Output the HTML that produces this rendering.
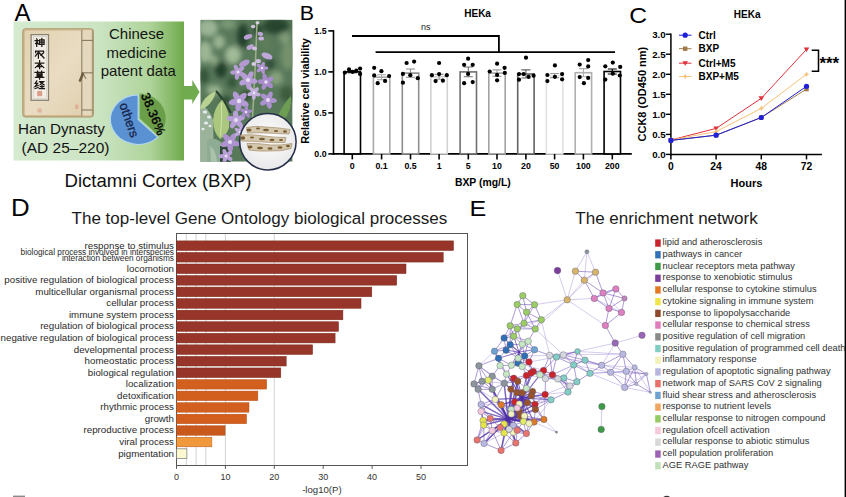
<!DOCTYPE html>
<html><head><meta charset="utf-8">
<style>
html,body{margin:0;padding:0;background:#fff;}
body{width:846px;height:497px;overflow:hidden;position:relative;font-family:"Liberation Sans", sans-serif;}
svg{position:absolute;left:0;top:0;}
text{font-family:"Liberation Sans", sans-serif;}
</style></head><body>
<svg width="846" height="497" viewBox="0 0 846 497">
<defs>
<linearGradient id="gbox" x1="0" y1="0" x2="1" y2="0">
<stop offset="0" stop-color="#d5eacf"/>
<stop offset="0.5" stop-color="#cbe4c3"/>
<stop offset="0.8" stop-color="#afd49a"/>
<stop offset="1" stop-color="#6fa94b"/>
</linearGradient>
</defs>

<text transform="translate(14.4,20.5) scale(1.04,1)" font-size="23" fill="#000">A</text>
<rect x="13.5" y="21.5" width="170.5" height="139" fill="url(#gbox)"/>
<defs><linearGradient id="bookg" x1="0" y1="0" x2="1" y2="1">
<stop offset="0" stop-color="#e2d2b0"/><stop offset="0.5" stop-color="#e9dcc2"/><stop offset="1" stop-color="#e0cfae"/></linearGradient></defs><rect x="22.8" y="28.8" width="70.6" height="88.2" rx="2.5" fill="#cdb68a" stroke="#a88e62" stroke-width="0.9"/><rect x="24.6" y="30.4" width="67.2" height="85" rx="1.5" fill="url(#bookg)"/><rect x="82" y="30" width="10.4" height="86.2" fill="#e4d8be"/><rect x="31.1" y="34.6" width="17.4" height="65.7" fill="#f2eee6" stroke="#8a8272" stroke-width="1.3"/><rect x="33.2" y="36.6" width="13.2" height="61.7" fill="none" stroke="#c2bcb0" stroke-width="0.5"/><path transform="translate(34.6,38.4)" d="M2 0.4 L2.6 1.4 M0.5 2.1 H3.6 L1 5.2 M2.1 3.6 V8 M3 4.6 L3.8 5.6 M5 1.5 H9.5 V6 H5 Z M5 3.75 H9.5 M7.25 0 V8" stroke="#1a1612" stroke-width="1.25" fill="none" stroke-linecap="square"/><path transform="translate(34.6,50.0)" d="M1 2.6 V1 H9 V2.6 M4.2 1.6 L0.8 6.2 M3.8 3.2 V8 M4.8 3 L9.4 8 M8.3 3.4 L6 5.2" stroke="#1a1612" stroke-width="1.25" fill="none" stroke-linecap="square"/><path transform="translate(34.6,60.6)" d="M0.8 2.5 H9.2 M5 0 V8 M5 3 L0.8 7 M5 3 L9.2 7 M3.3 6 H6.7" stroke="#1a1612" stroke-width="1.25" fill="none" stroke-linecap="square"/><path transform="translate(34.6,71.2)" d="M0.4 1.2 H9.6 M3 0 V2.3 M7 0 V2.3 M2.5 2.7 H7.5 V5 H2.5 Z M2.5 3.85 H7.5 M0.8 6.1 H9.2 M5 5 V8" stroke="#1a1612" stroke-width="1.25" fill="none" stroke-linecap="square"/><path transform="translate(34.6,80.9)" d="M2.2 0 L0.6 2.5 H3 L0.5 5.6 L3.6 4.6 M0.5 7.6 L3.6 6.6 M5 0.8 H9 L5.4 4 M6 1.6 L9.6 4 M5.6 5.6 H9.2 M7.4 4.6 V7.6 M4.6 7.6 H9.8" stroke="#1a1612" stroke-width="1.25" fill="none" stroke-linecap="square"/><rect x="37.2" y="91" width="5" height="5.2" fill="#d9907a" opacity="0.85"/><rect x="37.6" y="108.5" width="4" height="4" fill="#dfa48c" opacity="0.7"/><rect x="75" y="104.5" width="3.5" height="4.5" fill="#dfa48c" opacity="0.7"/><line x1="81.8" y1="29" x2="81.8" y2="116.6" stroke="#8f8062" stroke-width="1.1"/><line x1="92.3" y1="29" x2="92.3" y2="116.6" stroke="#a39474" stroke-width="1"/><line x1="81.8" y1="40.4" x2="93" y2="40.4" stroke="#8a7a5a" stroke-width="1.1"/><line x1="81.8" y1="72.8" x2="93" y2="72.8" stroke="#8a7a5a" stroke-width="1.1"/><line x1="81.8" y1="110" x2="93" y2="110" stroke="#8a7a5a" stroke-width="1.1"/><path d="M82.5 72.5 L79 81 L80.5 81.5 L83.5 74.5 Z M83 73 L86 79" stroke="#6a5a3e" stroke-width="0.9" fill="#6a5a3e"/><path d="M23.5 30 V116.2" stroke="#c4ad82" stroke-width="1.4" opacity="0.8"/><path d="M24 29.6 H92" stroke="#cdb78c" stroke-width="1" opacity="0.8"/><path d="M24 116.2 H92" stroke="#bfa67a" stroke-width="1.2" opacity="0.8"/>
<text x="136.5" y="38.7" font-size="15" text-anchor="middle" fill="#141414">Chinese</text>
<text x="136.5" y="58" font-size="15" text-anchor="middle" fill="#141414">medicine</text>
<text x="138.2" y="76.3" font-size="15" text-anchor="middle" fill="#141414">patent data</text>
<text x="61.4" y="134.2" font-size="15.2" text-anchor="middle" fill="#141414">Han Dynasty</text>
<text x="65.5" y="153.1" font-size="15.5" text-anchor="middle" fill="#141414">(AD 25–220)</text>
<path d="M138.20,119.60 L157.84,137.14 A27.78,24.80 0 1 1 138.20,94.80 Z" fill="#5a91d2" stroke="#b3d8ef" stroke-width="1.2"/>
<path d="M139.60,118.40 L139.60,93.60 A26.78,24.80 0 0 1 158.54,135.94 Z" fill="#6b9e48" stroke="#95c47a" stroke-width="1"/>
<text x="0" y="0" font-size="12.8" fill="#17244a" stroke="#17244a" stroke-width="0.3" transform="translate(119.2,104.6) rotate(71)">others</text>
<text x="0" y="0" font-size="13.2" font-weight="bold" fill="#0c0c0c" transform="translate(140.6,95.0) rotate(67.5)">38.36%</text>
<path d="M184 86 H192.3 V80 L199.6 92 L192.3 104 V99.5 H184 Z" fill="#70ab50"/>
<defs>
<radialGradient id="bgph" cx="0.5" cy="0.4" r="0.7">
<stop offset="0" stop-color="#5d8a60"/><stop offset="1" stop-color="#2f5a3a"/>
</radialGradient>
<radialGradient id="circ" cx="0.5" cy="0.45" r="0.6">
<stop offset="0" stop-color="#ffffff"/><stop offset="1" stop-color="#e6e6e8"/>
</radialGradient>
</defs>
<defs>
<clipPath id="phclip"><rect x="200.3" y="19.7" width="92.3" height="142"/></clipPath>
<filter id="bl3" x="-50%" y="-50%" width="200%" height="200%"><feGaussianBlur stdDeviation="2.6"/></filter>
<filter id="bl1" x="-50%" y="-50%" width="200%" height="200%"><feGaussianBlur stdDeviation="0.9"/></filter>
<filter id="bl05" x="-50%" y="-50%" width="200%" height="200%"><feGaussianBlur stdDeviation="0.45"/></filter>
<radialGradient id="circ" cx="0.5" cy="0.4" r="0.65">
<stop offset="0" stop-color="#ffffff"/><stop offset="0.7" stop-color="#f6f6f7"/><stop offset="1" stop-color="#dfe0e3"/>
</radialGradient>
</defs><g clip-path="url(#phclip)"><rect x="200.3" y="19.7" width="92.3" height="142" fill="#58785a"/><g filter="url(#bl3)"><ellipse cx="208" cy="28" rx="10" ry="9" fill="#9ab494"/><ellipse cx="228" cy="24" rx="8" ry="5" fill="#7a9a76"/><ellipse cx="205" cy="52" rx="7" ry="11" fill="#9cb694"/><ellipse cx="233" cy="55" rx="8" ry="9" fill="#a0ba98"/><ellipse cx="221" cy="70" rx="6" ry="8" fill="#22402a"/><ellipse cx="243" cy="36" rx="6" ry="12" fill="#22402a"/><ellipse cx="276" cy="26" rx="13" ry="8" fill="#28452f"/><ellipse cx="288" cy="56" rx="7" ry="14" fill="#74926c"/><ellipse cx="276" cy="78" rx="7" ry="7" fill="#86a07c"/><ellipse cx="214" cy="90" rx="8" ry="5" fill="#94b08c"/><ellipse cx="287" cy="94" rx="7" ry="8" fill="#3d5c3d"/><ellipse cx="246" cy="96" rx="5" ry="5" fill="#2a4429"/><ellipse cx="281" cy="132" rx="9" ry="14" fill="#4e6e4c"/><ellipse cx="266" cy="44" rx="5" ry="6" fill="#5f7f5a"/><ellipse cx="204" cy="76" rx="5" ry="8" fill="#34543a"/><ellipse cx="219" cy="42" rx="6" ry="7" fill="#9ab492"/><ellipse cx="232" cy="82" rx="5" ry="6" fill="#34543a"/><ellipse cx="270" cy="64" rx="5" ry="6" fill="#30503a"/><ellipse cx="285" cy="38" rx="6" ry="6" fill="#7e9a76"/><ellipse cx="214" cy="60" rx="4" ry="5" fill="#90ac88"/><ellipse cx="258" cy="30" rx="5" ry="6" fill="#2c4a32"/><ellipse cx="226" cy="100" rx="5" ry="4" fill="#2a4a2e"/></g><g filter="url(#bl05)"><path d="M200 104 L200 162 L214 162 L213 120 Q209 108 200 104 Z" fill="#9bb39b"/><path d="M200.3 107 Q204 96 216 91 Q214 101 206 107 Q203 109 200.3 109 Z" fill="#b9d292"/><path d="M216 91 Q224 100 231 113" stroke="#2a4030" stroke-width="2" fill="none"/><path d="M222 99.5 Q231 112 229 128 Q226 136 220 139 Q213 132 213 120 Q214 108 222 99.5 Z" fill="#abc77e"/><path d="M221.5 103 Q222 120 220.5 136" stroke="#cfe0a8" stroke-width="1" fill="none"/><path d="M207 140 Q214 136 221 142 L222 162 L207 162 Z" fill="#8eac94"/><path d="M210 146 Q216 150 217 162 L211 162 Z" fill="#aac2aa"/><path d="M220 146 L231 146 L231 162 L220 162 Z" fill="#2e4a34"/><ellipse cx="205" cy="112" rx="2.2" ry="1.6" fill="#e6eaee"/><ellipse cx="209" cy="117" rx="2" ry="1.5" fill="#e6eaee"/><ellipse cx="206" cy="123" rx="2.2" ry="1.6" fill="#e6eaee"/><ellipse cx="203" cy="129" rx="1.6" ry="1.3" fill="#e6eaee"/><ellipse cx="210" cy="126" rx="1.5" ry="1.2" fill="#e6eaee"/><path d="M277 118 Q283 104 291 96 Q292 110 284 120 Z" fill="#6d9c52"/></g><path d="M257 22 Q255.5 70 252.5 118" stroke="#9aae86" stroke-width="1.6" fill="none"/><g filter="url(#bl05)"><ellipse cx="257.5" cy="22.8" rx="2" ry="1.8" fill="#d8d0dc" transform="rotate(0 257.5 22.8)"/><ellipse cx="253.1" cy="26.6" rx="2.2" ry="1.8" fill="#d0c2dc" transform="rotate(0 253.1 26.6)"/><ellipse cx="248" cy="36.8" rx="4.4" ry="2.4" fill="#b99fd3" transform="rotate(-20 248 36.8)"/><ellipse cx="260.4" cy="33.9" rx="2.8" ry="2" fill="#bca4d4" transform="rotate(20 260.4 33.9)"/><ellipse cx="261.2" cy="38.6" rx="2.8" ry="2" fill="#c6b2da" transform="rotate(0 261.2 38.6)"/><ellipse cx="250.2" cy="47.1" rx="3.8" ry="2.3" fill="#bca4d6" transform="rotate(-25 250.2 47.1)"/><ellipse cx="254.6" cy="48.6" rx="2.4" ry="2" fill="#d0c2e0" transform="rotate(0 254.6 48.6)"/><ellipse cx="267" cy="56" rx="5.8" ry="3" fill="#bea8da" transform="rotate(22 267 56)"/><ellipse cx="244.3" cy="63.3" rx="5.8" ry="3" fill="#b498d0" transform="rotate(-28 244.3 63.3)"/><ellipse cx="258.2" cy="61.1" rx="2.8" ry="2.2" fill="#cdbedf" transform="rotate(0 258.2 61.1)"/><ellipse cx="253.8" cy="64" rx="2.4" ry="2" fill="#d4c8e2" transform="rotate(0 253.8 64)"/><ellipse cx="252.4" cy="80.8" rx="5.0" ry="2.7" fill="#b89ed6" transform="rotate(10 252.4 80.8)"/><ellipse cx="248.6" cy="84.5" rx="5.0" ry="2.7" fill="#b89ed6" transform="rotate(82 248.6 84.5)"/><ellipse cx="244.0" cy="82.0" rx="5.0" ry="2.7" fill="#b89ed6" transform="rotate(154 244.0 82.0)"/><ellipse cx="244.9" cy="76.8" rx="5.0" ry="2.7" fill="#b89ed6" transform="rotate(226 244.9 76.8)"/><ellipse cx="250.1" cy="76.0" rx="5.0" ry="2.7" fill="#b89ed6" transform="rotate(298 250.1 76.0)"/><circle cx="248" cy="80" r="2.0" fill="#e8e0f0"/><ellipse cx="269.1" cy="84.6" rx="4.4" ry="2.4" fill="#a88ccc" transform="rotate(40 269.1 84.6)"/><ellipse cx="264.5" cy="85.7" rx="4.4" ry="2.4" fill="#a88ccc" transform="rotate(112 264.5 85.7)"/><ellipse cx="262.0" cy="81.7" rx="4.4" ry="2.4" fill="#a88ccc" transform="rotate(184 262.0 81.7)"/><ellipse cx="265.0" cy="78.1" rx="4.4" ry="2.4" fill="#a88ccc" transform="rotate(256 265.0 78.1)"/><ellipse cx="269.4" cy="79.9" rx="4.4" ry="2.4" fill="#a88ccc" transform="rotate(328 269.4 79.9)"/><circle cx="266" cy="82" r="1.8" fill="#e8e0f0"/><ellipse cx="243.5" cy="103.1" rx="5.5" ry="3.0" fill="#b49ad4" transform="rotate(25 243.5 103.1)"/><ellipse cx="238.4" cy="106.0" rx="5.5" ry="3.0" fill="#b49ad4" transform="rotate(97 238.4 106.0)"/><ellipse cx="234.1" cy="102.0" rx="5.5" ry="3.0" fill="#b49ad4" transform="rotate(169 234.1 102.0)"/><ellipse cx="236.6" cy="96.6" rx="5.5" ry="3.0" fill="#b49ad4" transform="rotate(241 236.6 96.6)"/><ellipse cx="242.4" cy="97.3" rx="5.5" ry="3.0" fill="#b49ad4" transform="rotate(313 242.4 97.3)"/><circle cx="239" cy="101" r="2.2" fill="#e8e0f0"/><ellipse cx="272.2" cy="100.4" rx="4.7" ry="2.5" fill="#ad92d0" transform="rotate(5 272.2 100.4)"/><ellipse cx="269.0" cy="104.1" rx="4.7" ry="2.5" fill="#ad92d0" transform="rotate(77 269.0 104.1)"/><ellipse cx="264.4" cy="102.2" rx="4.7" ry="2.5" fill="#ad92d0" transform="rotate(149 264.4 102.2)"/><ellipse cx="264.8" cy="97.2" rx="4.7" ry="2.5" fill="#ad92d0" transform="rotate(221 264.8 97.2)"/><ellipse cx="269.7" cy="96.1" rx="4.7" ry="2.5" fill="#ad92d0" transform="rotate(293 269.7 96.1)"/><circle cx="268" cy="100" r="1.9" fill="#e8e0f0"/><ellipse cx="238.9" cy="123.4" rx="5.0" ry="2.7" fill="#b9a0d8" transform="rotate(50 238.9 123.4)"/><ellipse cx="233.6" cy="123.8" rx="5.0" ry="2.7" fill="#b9a0d8" transform="rotate(122 233.6 123.8)"/><ellipse cx="231.6" cy="118.9" rx="5.0" ry="2.7" fill="#b9a0d8" transform="rotate(194 231.6 118.9)"/><ellipse cx="235.7" cy="115.5" rx="5.0" ry="2.7" fill="#b9a0d8" transform="rotate(266 235.7 115.5)"/><ellipse cx="240.2" cy="118.3" rx="5.0" ry="2.7" fill="#b9a0d8" transform="rotate(338 240.2 118.3)"/><circle cx="236" cy="120" r="2.0" fill="#e8e0f0"/><ellipse cx="234.6" cy="143.2" rx="5.2" ry="2.9" fill="#ae92d0" transform="rotate(15 234.6 143.2)"/><ellipse cx="230.2" cy="146.7" rx="5.2" ry="2.9" fill="#ae92d0" transform="rotate(87 230.2 146.7)"/><ellipse cx="225.6" cy="143.7" rx="5.2" ry="2.9" fill="#ae92d0" transform="rotate(159 225.6 143.7)"/><ellipse cx="227.0" cy="138.3" rx="5.2" ry="2.9" fill="#ae92d0" transform="rotate(231 227.0 138.3)"/><ellipse cx="232.6" cy="138.0" rx="5.2" ry="2.9" fill="#ae92d0" transform="rotate(303 232.6 138.0)"/><circle cx="230" cy="142" r="2.1" fill="#e8e0f0"/><ellipse cx="228.9" cy="158.0" rx="3.9" ry="2.1" fill="#b8a0d6" transform="rotate(35 228.9 158.0)"/><ellipse cx="225.0" cy="159.3" rx="3.9" ry="2.1" fill="#b8a0d6" transform="rotate(107 225.0 159.3)"/><ellipse cx="222.5" cy="156.1" rx="3.9" ry="2.1" fill="#b8a0d6" transform="rotate(179 222.5 156.1)"/><ellipse cx="224.9" cy="152.7" rx="3.9" ry="2.1" fill="#b8a0d6" transform="rotate(251 224.9 152.7)"/><ellipse cx="228.8" cy="153.9" rx="3.9" ry="2.1" fill="#b8a0d6" transform="rotate(323 228.8 153.9)"/><circle cx="226" cy="156" r="1.5" fill="#e8e0f0"/><ellipse cx="265.0" cy="68.0" rx="3.3" ry="1.8" fill="#b094d0" transform="rotate(0 265.0 68.0)"/><ellipse cx="262.9" cy="70.9" rx="3.3" ry="1.8" fill="#b094d0" transform="rotate(72 262.9 70.9)"/><ellipse cx="259.6" cy="69.8" rx="3.3" ry="1.8" fill="#b094d0" transform="rotate(144 259.6 69.8)"/><ellipse cx="259.6" cy="66.2" rx="3.3" ry="1.8" fill="#b094d0" transform="rotate(216 259.6 66.2)"/><ellipse cx="262.9" cy="65.1" rx="3.3" ry="1.8" fill="#b094d0" transform="rotate(288 262.9 65.1)"/><circle cx="262" cy="68" r="1.3" fill="#e8e0f0"/><ellipse cx="241.2" cy="73.9" rx="4.1" ry="2.2" fill="#b59cd4" transform="rotate(30 241.2 73.9)"/><ellipse cx="237.2" cy="75.7" rx="4.1" ry="2.2" fill="#b59cd4" transform="rotate(102 237.2 75.7)"/><ellipse cx="234.3" cy="72.4" rx="4.1" ry="2.2" fill="#b59cd4" transform="rotate(174 234.3 72.4)"/><ellipse cx="236.5" cy="68.6" rx="4.1" ry="2.2" fill="#b59cd4" transform="rotate(246 236.5 68.6)"/><ellipse cx="240.8" cy="69.5" rx="4.1" ry="2.2" fill="#b59cd4" transform="rotate(318 240.8 69.5)"/><circle cx="238" cy="72" r="1.6" fill="#e8e0f0"/><ellipse cx="257.1" cy="94.1" rx="3.6" ry="1.9" fill="#c4b0de" transform="rotate(20 257.1 94.1)"/><ellipse cx="253.9" cy="96.2" rx="3.6" ry="1.9" fill="#c4b0de" transform="rotate(92 253.9 96.2)"/><ellipse cx="250.9" cy="93.9" rx="3.6" ry="1.9" fill="#c4b0de" transform="rotate(164 250.9 93.9)"/><ellipse cx="252.2" cy="90.3" rx="3.6" ry="1.9" fill="#c4b0de" transform="rotate(236 252.2 90.3)"/><ellipse cx="256.0" cy="90.4" rx="3.6" ry="1.9" fill="#c4b0de" transform="rotate(308 256.0 90.4)"/><circle cx="254" cy="93" r="1.4" fill="#e8e0f0"/><ellipse cx="247.5" cy="114.6" rx="3.3" ry="1.8" fill="#a58ac8" transform="rotate(60 247.5 114.6)"/><ellipse cx="244.0" cy="114.2" rx="3.3" ry="1.8" fill="#a58ac8" transform="rotate(132 244.0 114.2)"/><ellipse cx="243.3" cy="110.8" rx="3.3" ry="1.8" fill="#a58ac8" transform="rotate(204 243.3 110.8)"/><ellipse cx="246.3" cy="109.0" rx="3.3" ry="1.8" fill="#a58ac8" transform="rotate(276 246.3 109.0)"/><ellipse cx="248.9" cy="111.4" rx="3.3" ry="1.8" fill="#a58ac8" transform="rotate(348 248.9 111.4)"/><circle cx="246" cy="112" r="1.3" fill="#e8e0f0"/><ellipse cx="243.0" cy="132.0" rx="3.3" ry="1.8" fill="#bca6da" transform="rotate(0 243.0 132.0)"/><ellipse cx="240.9" cy="134.9" rx="3.3" ry="1.8" fill="#bca6da" transform="rotate(72 240.9 134.9)"/><ellipse cx="237.6" cy="133.8" rx="3.3" ry="1.8" fill="#bca6da" transform="rotate(144 237.6 133.8)"/><ellipse cx="237.6" cy="130.2" rx="3.3" ry="1.8" fill="#bca6da" transform="rotate(216 237.6 130.2)"/><ellipse cx="240.9" cy="129.1" rx="3.3" ry="1.8" fill="#bca6da" transform="rotate(288 240.9 129.1)"/><circle cx="240" cy="132" r="1.3" fill="#e8e0f0"/></g></g><circle cx="267.9" cy="141.7" r="28.2" fill="url(#circ)" stroke="#262f48" stroke-width="1.5"/><g filter="url(#bl05)"><path d="M246.5 127.5 Q256 125.5 266 127 Q278 127.5 290 129.5 L289 134 Q278 133.5 266 133 Q256 132.5 247.5 133 Z" fill="#d3c8ae" stroke="#9a7e56" stroke-width="0.6"/><path d="M240.5 135 Q252 134 264 136 Q275 137.5 286 137.5 L285 142.5 Q274 143 263 142 Q251 141 241.5 141 Z" fill="#d3c8ae" stroke="#9a7e56" stroke-width="0.6"/><path d="M247 143.5 Q259 143 271 145 Q282 145.5 292 143.5 L291 148.5 Q281 151.5 270 151 Q258 151.5 249 150 Z" fill="#d3c8ae" stroke="#9a7e56" stroke-width="0.6"/><ellipse cx="249" cy="130" rx="2.5" ry="1.6" fill="#7a5c34"/><ellipse cx="258" cy="128.5" rx="2" ry="1" fill="#7a5c34"/><ellipse cx="266" cy="130" rx="3" ry="1.2" fill="#7a5c34"/><ellipse cx="276" cy="131" rx="2.2" ry="1.1" fill="#7a5c34"/><ellipse cx="285" cy="131.5" rx="2" ry="1.3" fill="#7a5c34"/><ellipse cx="243" cy="138" rx="2.2" ry="1.8" fill="#7a5c34"/><ellipse cx="252" cy="137.5" rx="2" ry="1.1" fill="#7a5c34"/><ellipse cx="262" cy="139" rx="3" ry="1.3" fill="#7a5c34"/><ellipse cx="272" cy="140" rx="2.5" ry="1.2" fill="#7a5c34"/><ellipse cx="281" cy="140" rx="2" ry="1.1" fill="#7a5c34"/><ellipse cx="250" cy="147" rx="2.5" ry="1.4" fill="#7a5c34"/><ellipse cx="260" cy="148" rx="3" ry="1.2" fill="#7a5c34"/><ellipse cx="270" cy="148.5" rx="2.5" ry="1.3" fill="#7a5c34"/><ellipse cx="280" cy="147.5" rx="2.5" ry="1.2" fill="#7a5c34"/><ellipse cx="288" cy="146" rx="2" ry="1.3" fill="#7a5c34"/></g>
<text x="64.5" y="186.5" font-size="18.6" fill="#111">Dictamni Cortex (BXP)</text>
<text transform="translate(299.8,19.8) scale(1.1,1)" font-size="19.5" fill="#000">B</text>
<text x="477.6" y="17.1" font-size="10" font-weight="bold" text-anchor="middle" fill="#000">HEKa</text>
<line x1="333.5" y1="30.100000000000005" x2="333.5" y2="154.70000000000002" stroke="#000" stroke-width="1.6"/>
<line x1="332.7" y1="153.9" x2="631.8" y2="153.9" stroke="#000" stroke-width="1.6"/>
<line x1="328.3" y1="153.9" x2="333.5" y2="153.9" stroke="#000" stroke-width="1.6"/>
<text x="326.6" y="157.1" font-size="8.8" font-weight="bold" text-anchor="end" fill="#000">0.0</text>
<line x1="328.3" y1="112.9" x2="333.5" y2="112.9" stroke="#000" stroke-width="1.6"/>
<text x="326.6" y="116.10000000000001" font-size="8.8" font-weight="bold" text-anchor="end" fill="#000">0.5</text>
<line x1="328.3" y1="71.9" x2="333.5" y2="71.9" stroke="#000" stroke-width="1.6"/>
<text x="326.6" y="75.10000000000001" font-size="8.8" font-weight="bold" text-anchor="end" fill="#000">1.0</text>
<line x1="328.3" y1="30.900000000000006" x2="333.5" y2="30.900000000000006" stroke="#000" stroke-width="1.6"/>
<text x="326.6" y="34.10000000000001" font-size="8.8" font-weight="bold" text-anchor="end" fill="#000">1.5</text>
<text x="0" y="0" font-size="10.8" font-weight="bold" fill="#000" text-anchor="middle" transform="translate(308.9,91) rotate(-90)">Relative cell viability</text>
<rect x="344.1" y="71.9" width="16.4" height="82.0" fill="#fff" stroke="#000" stroke-width="1.6"/>
<path d="M347.8 71.1 H356.8 M352.3 71.1 V72.7 M347.8 72.7 H356.8" stroke="#000" stroke-width="1.1" fill="none"/>
<circle cx="344.9" cy="72.6" r="2.1" fill="#000"/>
<circle cx="349" cy="69.4" r="2.1" fill="#000"/>
<circle cx="352.6" cy="71.8" r="2.1" fill="#000"/>
<circle cx="356.3" cy="70.7" r="2.1" fill="#000"/>
<circle cx="360.1" cy="68.6" r="2.1" fill="#000"/>
<circle cx="360.1" cy="73.9" r="2.1" fill="#000"/>
<line x1="352.3" y1="153.9" x2="352.3" y2="159.4" stroke="#000" stroke-width="1.6"/>
<text x="352.3" y="168.9" font-size="8.8" font-weight="bold" text-anchor="middle" fill="#000">0</text>
<rect x="373.4" y="77.2" width="16.4" height="76.7" fill="#fff" stroke="#a8a8a8" stroke-width="1.6"/>
<path d="M377.1 74.8 H386.1 M381.6 74.8 V79.7 M377.1 79.7 H386.1" stroke="#a8a8a8" stroke-width="1.1" fill="none"/>
<circle cx="374.2" cy="67.8" r="2.1" fill="#000"/>
<circle cx="381.4" cy="71.2" r="2.1" fill="#000"/>
<circle cx="374.2" cy="75.4" r="2.1" fill="#000"/>
<circle cx="389.1" cy="76" r="2.1" fill="#000"/>
<circle cx="385.1" cy="80.9" r="2.1" fill="#000"/>
<circle cx="377.7" cy="83.2" r="2.1" fill="#000"/>
<line x1="381.6" y1="153.9" x2="381.6" y2="159.4" stroke="#000" stroke-width="1.6"/>
<text x="381.6" y="168.9" font-size="8.8" font-weight="bold" text-anchor="middle" fill="#000">0.1</text>
<rect x="402.3" y="73.1" width="16.4" height="80.8" fill="#fff" stroke="#8e8e8e" stroke-width="1.6"/>
<path d="M406.0 69.0 H415.0 M410.5 69.0 V77.2 M406.0 77.2 H415.0" stroke="#8e8e8e" stroke-width="1.1" fill="none"/>
<circle cx="406.6" cy="63" r="2.1" fill="#000"/>
<circle cx="414.1" cy="61.6" r="2.1" fill="#000"/>
<circle cx="402.9" cy="73.9" r="2.1" fill="#000"/>
<circle cx="410.3" cy="75.2" r="2.1" fill="#000"/>
<circle cx="417.8" cy="78.2" r="2.1" fill="#000"/>
<circle cx="402.9" cy="82.7" r="2.1" fill="#000"/>
<line x1="410.5" y1="153.9" x2="410.5" y2="159.4" stroke="#000" stroke-width="1.6"/>
<text x="410.5" y="168.9" font-size="8.8" font-weight="bold" text-anchor="middle" fill="#000">0.5</text>
<rect x="430.9" y="76.8" width="16.4" height="77.1" fill="#fff" stroke="#d2d2d2" stroke-width="1.6"/>
<path d="M434.6 74.4 H443.6 M439.1 74.4 V79.3 M434.6 79.3 H443.6" stroke="#999" stroke-width="1.1" fill="none"/>
<circle cx="439.1" cy="63" r="2.1" fill="#000"/>
<circle cx="431.9" cy="75.2" r="2.1" fill="#000"/>
<circle cx="439.1" cy="74.1" r="2.1" fill="#000"/>
<circle cx="446.8" cy="75.2" r="2.1" fill="#000"/>
<circle cx="435.6" cy="81.1" r="2.1" fill="#000"/>
<circle cx="442.9" cy="80.7" r="2.1" fill="#000"/>
<line x1="439.1" y1="153.9" x2="439.1" y2="159.4" stroke="#000" stroke-width="1.6"/>
<text x="439.1" y="168.9" font-size="8.8" font-weight="bold" text-anchor="middle" fill="#000">1</text>
<rect x="460.1" y="71.9" width="16.4" height="82.0" fill="#fff" stroke="#707070" stroke-width="1.6"/>
<path d="M463.8 67.0 H472.8 M468.3 67.0 V76.8 M463.8 76.8 H472.8" stroke="#707070" stroke-width="1.1" fill="none"/>
<circle cx="468.1" cy="58.7" r="2.1" fill="#000"/>
<circle cx="464.1" cy="64.8" r="2.1" fill="#000"/>
<circle cx="472.7" cy="64.8" r="2.1" fill="#000"/>
<circle cx="468.1" cy="73.9" r="2.1" fill="#000"/>
<circle cx="464.1" cy="83.2" r="2.1" fill="#000"/>
<circle cx="472.7" cy="82.1" r="2.1" fill="#000"/>
<line x1="468.3" y1="153.9" x2="468.3" y2="159.4" stroke="#000" stroke-width="1.6"/>
<text x="468.3" y="168.9" font-size="8.8" font-weight="bold" text-anchor="middle" fill="#000">5</text>
<rect x="488.8" y="73.1" width="16.4" height="80.8" fill="#fff" stroke="#a2a2a2" stroke-width="1.6"/>
<path d="M492.5 69.9 H501.5 M497.0 69.9 V76.4 M492.5 76.4 H501.5" stroke="#a2a2a2" stroke-width="1.1" fill="none"/>
<circle cx="497.1" cy="63.7" r="2.1" fill="#000"/>
<circle cx="504.6" cy="67.8" r="2.1" fill="#000"/>
<circle cx="489.7" cy="71.5" r="2.1" fill="#000"/>
<circle cx="504.8" cy="72.9" r="2.1" fill="#000"/>
<circle cx="497.1" cy="74.9" r="2.1" fill="#000"/>
<circle cx="497.1" cy="80.3" r="2.1" fill="#000"/>
<line x1="497.0" y1="153.9" x2="497.0" y2="159.4" stroke="#000" stroke-width="1.6"/>
<text x="497.0" y="168.9" font-size="8.8" font-weight="bold" text-anchor="middle" fill="#000">10</text>
<rect x="517.7" y="74.0" width="16.4" height="80.0" fill="#fff" stroke="#626262" stroke-width="1.6"/>
<path d="M521.4 69.9 H530.4 M525.9 69.9 V78.0 M521.4 78.0 H530.4" stroke="#626262" stroke-width="1.1" fill="none"/>
<circle cx="526" cy="57.7" r="2.1" fill="#000"/>
<circle cx="519" cy="74.1" r="2.1" fill="#000"/>
<circle cx="523.6" cy="74.1" r="2.1" fill="#000"/>
<circle cx="528.6" cy="76.8" r="2.1" fill="#000"/>
<circle cx="533.6" cy="75.7" r="2.1" fill="#000"/>
<circle cx="519" cy="79.7" r="2.1" fill="#000"/>
<line x1="525.9" y1="153.9" x2="525.9" y2="159.4" stroke="#000" stroke-width="1.6"/>
<text x="525.9" y="168.9" font-size="8.8" font-weight="bold" text-anchor="middle" fill="#000">20</text>
<rect x="546.4" y="75.6" width="16.4" height="78.3" fill="#fff" stroke="#e2e2e2" stroke-width="1.6"/>
<path d="M550.1 73.5 H559.1 M554.6 73.5 V77.6 M550.1 77.6 H559.1" stroke="#999" stroke-width="1.1" fill="none"/>
<circle cx="554.9" cy="65.4" r="2.1" fill="#000"/>
<circle cx="547.4" cy="75" r="2.1" fill="#000"/>
<circle cx="562.1" cy="74.1" r="2.1" fill="#000"/>
<circle cx="554.9" cy="76.8" r="2.1" fill="#000"/>
<circle cx="562.1" cy="79.3" r="2.1" fill="#000"/>
<circle cx="547.4" cy="81.1" r="2.1" fill="#000"/>
<line x1="554.6" y1="153.9" x2="554.6" y2="159.4" stroke="#000" stroke-width="1.6"/>
<text x="554.6" y="168.9" font-size="8.8" font-weight="bold" text-anchor="middle" fill="#000">50</text>
<rect x="575.2" y="72.7" width="16.4" height="81.2" fill="#fff" stroke="#b0b0b0" stroke-width="1.6"/>
<path d="M578.9 68.6 H587.9 M583.4 68.6 V76.8 M578.9 76.8 H587.9" stroke="#b0b0b0" stroke-width="1.1" fill="none"/>
<circle cx="588.2" cy="60.1" r="2.1" fill="#000"/>
<circle cx="579.7" cy="64.6" r="2.1" fill="#000"/>
<circle cx="588.2" cy="66.4" r="2.1" fill="#000"/>
<circle cx="579.7" cy="77.1" r="2.1" fill="#000"/>
<circle cx="588.2" cy="77.9" r="2.1" fill="#000"/>
<circle cx="583.9" cy="83.2" r="2.1" fill="#000"/>
<line x1="583.4" y1="153.9" x2="583.4" y2="159.4" stroke="#000" stroke-width="1.6"/>
<text x="583.4" y="168.9" font-size="8.8" font-weight="bold" text-anchor="middle" fill="#000">100</text>
<rect x="604.1" y="71.5" width="16.4" height="82.4" fill="#fff" stroke="#000" stroke-width="1.6"/>
<path d="M607.8 69.0 H616.8 M612.3 69.0 V74.0 M607.8 74.0 H616.8" stroke="#000" stroke-width="1.1" fill="none"/>
<circle cx="612.8" cy="62.6" r="2.1" fill="#000"/>
<circle cx="605.3" cy="66.3" r="2.1" fill="#000"/>
<circle cx="620.2" cy="66.9" r="2.1" fill="#000"/>
<circle cx="612.8" cy="73.7" r="2.1" fill="#000"/>
<circle cx="619.8" cy="75.5" r="2.1" fill="#000"/>
<circle cx="605.3" cy="79.6" r="2.1" fill="#000"/>
<line x1="612.3" y1="153.9" x2="612.3" y2="159.4" stroke="#000" stroke-width="1.6"/>
<text x="612.3" y="168.9" font-size="8.8" font-weight="bold" text-anchor="middle" fill="#000">200</text>
<text x="482.8" y="185.5" font-size="10.4" font-weight="bold" text-anchor="middle" fill="#000">BXP (mg/L)</text>
<path d="M352 36 H498.9 V52.5" stroke="#000" stroke-width="1.8" fill="none"/>
<line x1="375.6" y1="52.2" x2="615" y2="52.2" stroke="#000" stroke-width="1.8"/>
<text x="425.7" y="29.8" font-size="9" text-anchor="middle" fill="#222">ns</text>
<text transform="translate(629.3,23.3) scale(1.12,1)" font-size="22" fill="#000">C</text>
<text x="747.2" y="18" font-size="10" font-weight="bold" text-anchor="middle" fill="#000">HEKa</text>
<line x1="670.9" y1="33.39" x2="670.9" y2="155.20000000000002" stroke="#000" stroke-width="1.5"/>
<line x1="670.1" y1="154.4" x2="821.9" y2="154.4" stroke="#000" stroke-width="1.5"/>
<line x1="665.8" y1="154.4" x2="670.9" y2="154.4" stroke="#000" stroke-width="1.4"/>
<text x="665.6" y="157.8" font-size="9.7" font-weight="bold" text-anchor="end" fill="#000">0.0</text>
<line x1="665.8" y1="134.4" x2="670.9" y2="134.4" stroke="#000" stroke-width="1.4"/>
<text x="665.6" y="137.8" font-size="9.7" font-weight="bold" text-anchor="end" fill="#000">0.5</text>
<line x1="665.8" y1="114.3" x2="670.9" y2="114.3" stroke="#000" stroke-width="1.4"/>
<text x="665.6" y="117.7" font-size="9.7" font-weight="bold" text-anchor="end" fill="#000">1.0</text>
<line x1="665.8" y1="94.3" x2="670.9" y2="94.3" stroke="#000" stroke-width="1.4"/>
<text x="665.6" y="97.7" font-size="9.7" font-weight="bold" text-anchor="end" fill="#000">1.5</text>
<line x1="665.8" y1="74.3" x2="670.9" y2="74.3" stroke="#000" stroke-width="1.4"/>
<text x="665.6" y="77.7" font-size="9.7" font-weight="bold" text-anchor="end" fill="#000">2.0</text>
<line x1="665.8" y1="54.2" x2="670.9" y2="54.2" stroke="#000" stroke-width="1.4"/>
<text x="665.6" y="57.6" font-size="9.7" font-weight="bold" text-anchor="end" fill="#000">2.5</text>
<line x1="665.8" y1="34.2" x2="670.9" y2="34.2" stroke="#000" stroke-width="1.4"/>
<text x="665.6" y="37.6" font-size="9.7" font-weight="bold" text-anchor="end" fill="#000">3.0</text>
<line x1="670.9" y1="154.4" x2="670.9" y2="159.4" stroke="#000" stroke-width="1.5"/>
<text x="670.9" y="169.9" font-size="10.3" font-weight="bold" text-anchor="middle" fill="#000">0</text>
<line x1="716.1" y1="154.4" x2="716.1" y2="159.4" stroke="#000" stroke-width="1.5"/>
<text x="716.1" y="169.9" font-size="10.3" font-weight="bold" text-anchor="middle" fill="#000">24</text>
<line x1="761.3" y1="154.4" x2="761.3" y2="159.4" stroke="#000" stroke-width="1.5"/>
<text x="761.3" y="169.9" font-size="10.3" font-weight="bold" text-anchor="middle" fill="#000">48</text>
<line x1="806.5" y1="154.4" x2="806.5" y2="159.4" stroke="#000" stroke-width="1.5"/>
<text x="806.5" y="169.9" font-size="10.3" font-weight="bold" text-anchor="middle" fill="#000">72</text>
<text x="746.5" y="187" font-size="11" font-weight="bold" text-anchor="middle" fill="#000">Hours</text>
<text x="0" y="0" font-size="11" font-weight="bold" fill="#000" text-anchor="middle" transform="translate(645.6,94.1) rotate(-90)">CCK8 (OD450 nm)</text>
<polyline points="670.9,140.0 716.1,128.4 761.3,98.3 806.5,49.4" fill="none" stroke="#e0303a" stroke-width="1"/>
<path d="M668.1 138.0 H673.7 L670.9 142.6 Z" fill="#e0303a"/>
<path d="M713.3 126.4 H718.9 L716.1 131.0 Z" fill="#e0303a"/>
<path d="M758.5 96.3 H764.1 L761.3 100.9 Z" fill="#e0303a"/>
<path d="M803.7 47.4 H809.3 L806.5 52.0 Z" fill="#e0303a"/>
<polyline points="670.9,140.0 716.1,131.6 761.3,108.3 806.5,74.3" fill="none" stroke="#f5c27a" stroke-width="1"/>
<path d="M670.9 137.2 L671.8 139.1 L673.7 140.0 L671.8 140.9 L670.9 142.8 L670.0 140.9 L668.1 140.0 L670.0 139.1 Z" fill="#f5c27a"/>
<path d="M716.1 128.8 L717.0 130.7 L718.9 131.6 L717.0 132.5 L716.1 134.4 L715.2 132.5 L713.3 131.6 L715.2 130.7 Z" fill="#f5c27a"/>
<path d="M761.3 105.5 L762.2 107.4 L764.1 108.3 L762.2 109.2 L761.3 111.1 L760.4 109.2 L758.5 108.3 L760.4 107.4 Z" fill="#f5c27a"/>
<path d="M806.5 71.5 L807.4 73.4 L809.3 74.3 L807.4 75.2 L806.5 77.1 L805.6 75.2 L803.7 74.3 L805.6 73.4 Z" fill="#f5c27a"/>
<polyline points="670.9,140.4 716.1,135.2 761.3,117.5 806.5,89.1" fill="none" stroke="#a07a4a" stroke-width="1"/>
<rect x="668.7" y="138.2" width="4.4" height="4.4" fill="#a07a4a"/>
<rect x="713.9" y="133.0" width="4.4" height="4.4" fill="#a07a4a"/>
<rect x="759.1" y="115.3" width="4.4" height="4.4" fill="#a07a4a"/>
<rect x="804.3" y="86.9" width="4.4" height="4.4" fill="#a07a4a"/>
<polyline points="670.9,140.4 716.1,135.2 761.3,117.5 806.5,86.3" fill="none" stroke="#2020d8" stroke-width="1"/>
<circle cx="670.9" cy="140.4" r="2.6" fill="#2020d8"/>
<circle cx="716.1" cy="135.2" r="2.6" fill="#2020d8"/>
<circle cx="761.3" cy="117.5" r="2.6" fill="#2020d8"/>
<circle cx="806.5" cy="86.3" r="2.6" fill="#2020d8"/>
<line x1="679" y1="35.2" x2="691.5" y2="35.2" stroke="#2020d8" stroke-width="1"/>
<circle cx="685.2" cy="35.2" r="2.6" fill="#2020d8"/>
<text x="698.5" y="38.7" font-size="10" font-weight="bold" fill="#000">Ctrl</text>
<line x1="679" y1="48.7" x2="691.5" y2="48.7" stroke="#a07a4a" stroke-width="1"/>
<rect x="683.0" y="46.5" width="4.4" height="4.4" fill="#a07a4a"/>
<text x="698.5" y="52.2" font-size="10" font-weight="bold" fill="#000">BXP</text>
<line x1="679" y1="63.2" x2="691.5" y2="63.2" stroke="#e0303a" stroke-width="1"/>
<path d="M682.4 61.2 H688.0 L685.2 65.8 Z" fill="#e0303a"/>
<text x="698.5" y="66.7" font-size="10" font-weight="bold" fill="#000">Ctrl+M5</text>
<line x1="679" y1="76.5" x2="691.5" y2="76.5" stroke="#f5c27a" stroke-width="1"/>
<path d="M685.2 73.7 L686.1 75.6 L688.0 76.5 L686.1 77.4 L685.2 79.3 L684.3 77.4 L682.4 76.5 L684.3 75.6 Z" fill="#f5c27a"/>
<text x="698.5" y="80.0" font-size="10" font-weight="bold" fill="#000">BXP+M5</text>
<path d="M811.7 50.2 H818.5 V71.3 H811.7" stroke="#000" stroke-width="1.5" fill="none"/>
<text x="819.4" y="69.3" font-size="17" font-weight="bold" fill="#000">***</text>
<line x1="845.3" y1="0" x2="845.3" y2="497" stroke="#000" stroke-width="1.4"/>
<text transform="translate(10.9,216.3) scale(1.1,1)" font-size="23.5" fill="#000">D</text>
<text x="71.5" y="224.2" font-size="17.05" fill="#1a1a1a">The top-level Gene Ontology biological processes</text>
<rect x="176.5" y="233.5" width="291" height="232" fill="#fff" stroke="#555" stroke-width="1"/>
<line x1="186.3" y1="234" x2="186.3" y2="465" stroke="#c8c8c8" stroke-width="0.8"/>
<line x1="196.1" y1="234" x2="196.1" y2="465" stroke="#c8c8c8" stroke-width="0.8"/>
<line x1="205.8" y1="234" x2="205.8" y2="465" stroke="#c8c8c8" stroke-width="0.8"/>
<line x1="225.4" y1="234" x2="225.4" y2="465" stroke="#c8c8c8" stroke-width="0.8"/>
<line x1="274.3" y1="234" x2="274.3" y2="465" stroke="#c8c8c8" stroke-width="0.8"/>
<rect x="176.5" y="240.90" width="277.0" height="9.6" fill="#97352a" stroke="#7a2818" stroke-width="0.5"/>
<text x="174" y="248.60" font-size="9.75" text-anchor="end" fill="#2a2a2a">response to stimulus</text>
<rect x="176.5" y="252.45" width="266.7" height="9.6" fill="#97352a" stroke="#7a2818" stroke-width="0.5"/>
<rect x="176.5" y="264.00" width="229.5" height="9.6" fill="#97352a" stroke="#7a2818" stroke-width="0.5"/>
<text x="174" y="271.70" font-size="9.75" text-anchor="end" fill="#2a2a2a">locomotion</text>
<rect x="176.5" y="275.55" width="220.2" height="9.6" fill="#97352a" stroke="#7a2818" stroke-width="0.5"/>
<text x="174" y="283.25" font-size="9.75" text-anchor="end" fill="#2a2a2a">positive regulation of biological process</text>
<rect x="176.5" y="287.10" width="195.3" height="9.6" fill="#97352a" stroke="#7a2818" stroke-width="0.5"/>
<text x="174" y="294.80" font-size="9.75" text-anchor="end" fill="#2a2a2a">multicellular organismal process</text>
<rect x="176.5" y="298.65" width="184.5" height="9.6" fill="#97352a" stroke="#7a2818" stroke-width="0.5"/>
<text x="174" y="306.35" font-size="9.75" text-anchor="end" fill="#2a2a2a">cellular process</text>
<rect x="176.5" y="310.20" width="166.4" height="9.6" fill="#97352a" stroke="#7a2818" stroke-width="0.5"/>
<text x="174" y="317.90" font-size="9.75" text-anchor="end" fill="#2a2a2a">immune system process</text>
<rect x="176.5" y="321.75" width="162.0" height="9.6" fill="#97352a" stroke="#7a2818" stroke-width="0.5"/>
<text x="174" y="329.45" font-size="9.75" text-anchor="end" fill="#2a2a2a">regulation of biological process</text>
<rect x="176.5" y="333.30" width="158.6" height="9.6" fill="#97352a" stroke="#7a2818" stroke-width="0.5"/>
<text x="174" y="341.00" font-size="9.75" text-anchor="end" fill="#2a2a2a">negative regulation of biological process</text>
<rect x="176.5" y="344.85" width="136.1" height="9.6" fill="#97352a" stroke="#7a2818" stroke-width="0.5"/>
<text x="174" y="352.55" font-size="9.75" text-anchor="end" fill="#2a2a2a">developmental process</text>
<rect x="176.5" y="356.40" width="109.7" height="9.6" fill="#97352a" stroke="#7a2818" stroke-width="0.5"/>
<text x="174" y="364.10" font-size="9.75" text-anchor="end" fill="#2a2a2a">homeostatic process</text>
<rect x="176.5" y="367.95" width="104.3" height="9.6" fill="#97352a" stroke="#7a2818" stroke-width="0.5"/>
<text x="174" y="375.65" font-size="9.75" text-anchor="end" fill="#2a2a2a">biological regulation</text>
<rect x="176.5" y="379.50" width="90.2" height="9.6" fill="#d25f1e" stroke="#b04a14" stroke-width="0.4"/>
<text x="174" y="387.20" font-size="9.75" text-anchor="end" fill="#2a2a2a">localization</text>
<rect x="176.5" y="391.05" width="81.4" height="9.6" fill="#d25f1e" stroke="#b04a14" stroke-width="0.4"/>
<text x="174" y="398.75" font-size="9.75" text-anchor="end" fill="#2a2a2a">detoxification</text>
<rect x="176.5" y="402.60" width="72.5" height="9.6" fill="#d25f1e" stroke="#b04a14" stroke-width="0.4"/>
<text x="174" y="410.30" font-size="9.75" text-anchor="end" fill="#2a2a2a">rhythmic process</text>
<rect x="176.5" y="414.15" width="70.1" height="9.6" fill="#d25f1e" stroke="#b04a14" stroke-width="0.4"/>
<text x="174" y="421.85" font-size="9.75" text-anchor="end" fill="#2a2a2a">growth</text>
<rect x="176.5" y="425.70" width="48.6" height="9.6" fill="#c8581c" stroke="#b04a14" stroke-width="0.4"/>
<text x="174" y="433.40" font-size="9.75" text-anchor="end" fill="#2a2a2a">reproductive process</text>
<rect x="176.5" y="437.25" width="35.4" height="9.6" fill="#f0993c" stroke="#b04a14" stroke-width="0.4"/>
<text x="174" y="444.95" font-size="9.75" text-anchor="end" fill="#2a2a2a">viral process</text>
<rect x="176.5" y="448.80" width="10.4" height="9.6" fill="#fcf8d2" stroke="#777" stroke-width="0.7"/>
<text x="174" y="456.50" font-size="9.75" text-anchor="end" fill="#2a2a2a">pigmentation</text>
<text x="174" y="254.75" font-size="8.27" text-anchor="end" fill="#2a2a2a">biological process involved in interspecies</text>
<text x="174" y="261.35" font-size="8.27" text-anchor="end" fill="#2a2a2a">interaction between organisms</text>
<line x1="176.5" y1="465.5" x2="176.5" y2="468.8" stroke="#555" stroke-width="1"/>
<text x="176.5" y="479.8" font-size="9" text-anchor="middle" fill="#333">0</text>
<line x1="225.4" y1="465.5" x2="225.4" y2="468.8" stroke="#555" stroke-width="1"/>
<text x="225.4" y="479.8" font-size="9" text-anchor="middle" fill="#333">10</text>
<line x1="274.3" y1="465.5" x2="274.3" y2="468.8" stroke="#555" stroke-width="1"/>
<text x="274.3" y="479.8" font-size="9" text-anchor="middle" fill="#333">20</text>
<line x1="323.2" y1="465.5" x2="323.2" y2="468.8" stroke="#555" stroke-width="1"/>
<text x="323.2" y="479.8" font-size="9" text-anchor="middle" fill="#333">30</text>
<line x1="372.1" y1="465.5" x2="372.1" y2="468.8" stroke="#555" stroke-width="1"/>
<text x="372.1" y="479.8" font-size="9" text-anchor="middle" fill="#333">40</text>
<line x1="421.0" y1="465.5" x2="421.0" y2="468.8" stroke="#555" stroke-width="1"/>
<text x="421.0" y="479.8" font-size="9" text-anchor="middle" fill="#333">50</text>
<text x="321.9" y="492.7" font-size="9.6" text-anchor="middle" fill="#333">-log10(P)</text>
<text transform="translate(469.6,216.2) scale(1.1,1)" font-size="22.8" fill="#000">E</text>
<text x="575.3" y="223.8" font-size="17" fill="#1a1a1a">The enrichment network</text>
<rect x="655.2" y="239.4" width="5.5" height="7.3" fill="#c8232a"/>
<text x="662.6" y="245.2" font-size="9.3" fill="#303030">lipid and atherosclerosis</text>
<rect x="655.2" y="251.1" width="5.5" height="7.3" fill="#3272b8"/>
<text x="662.6" y="256.9" font-size="9.3" fill="#303030">pathways in cancer</text>
<rect x="655.2" y="262.8" width="5.5" height="7.3" fill="#3d9a46"/>
<text x="662.6" y="268.6" font-size="9.3" fill="#303030">nuclear receptors meta pathway</text>
<rect x="655.2" y="274.6" width="5.5" height="7.3" fill="#7b3f9c"/>
<text x="662.6" y="280.4" font-size="9.3" fill="#303030">response to xenobiotic stimulus</text>
<rect x="655.2" y="286.3" width="5.5" height="7.3" fill="#e37a22"/>
<text x="662.6" y="292.1" font-size="9.3" fill="#303030">cellular response to cytokine stimulus</text>
<rect x="655.2" y="298.0" width="5.5" height="7.3" fill="#f0e64a"/>
<text x="662.6" y="303.8" font-size="9.3" fill="#303030">cytokine signaling in immune system</text>
<rect x="655.2" y="309.7" width="5.5" height="7.3" fill="#8e4a2c"/>
<text x="662.6" y="315.5" font-size="9.3" fill="#303030">response to lipopolysaccharide</text>
<rect x="655.2" y="321.4" width="5.5" height="7.3" fill="#e07cbc"/>
<text x="662.6" y="327.2" font-size="9.3" fill="#303030">cellular response to chemical stress</text>
<rect x="655.2" y="333.2" width="5.5" height="7.3" fill="#8a8a8a"/>
<text x="662.6" y="339.0" font-size="9.3" fill="#303030">positive regulation of cell migration</text>
<rect x="655.2" y="344.9" width="5.5" height="7.3" fill="#80cdc2"/>
<text x="662.6" y="350.7" font-size="9.3" fill="#303030">positive regulation of programmed cell death</text>
<rect x="655.2" y="356.6" width="5.5" height="7.3" fill="#f3f0b8"/>
<text x="662.6" y="362.4" font-size="9.3" fill="#303030">inflammatory response</text>
<rect x="655.2" y="368.3" width="5.5" height="7.3" fill="#b6b6de"/>
<text x="662.6" y="374.1" font-size="9.3" fill="#303030">regulation of apoptotic signaling pathway</text>
<rect x="655.2" y="380.0" width="5.5" height="7.3" fill="#e8706a"/>
<text x="662.6" y="385.8" font-size="9.3" fill="#303030">network map of SARS CoV 2 signaling</text>
<rect x="655.2" y="391.8" width="5.5" height="7.3" fill="#6fa2d2"/>
<text x="662.6" y="397.6" font-size="9.3" fill="#303030">fluid shear stress and atherosclerosis</text>
<rect x="655.2" y="403.5" width="5.5" height="7.3" fill="#f2a462"/>
<text x="662.6" y="409.3" font-size="9.3" fill="#303030">response to nutrient levels</text>
<rect x="655.2" y="415.2" width="5.5" height="7.3" fill="#94ca62"/>
<text x="662.6" y="421.0" font-size="9.3" fill="#303030">cellular response to nitrogen compound</text>
<rect x="655.2" y="426.9" width="5.5" height="7.3" fill="#f5c8dc"/>
<text x="662.6" y="432.7" font-size="9.3" fill="#303030">regulation ofcell activation</text>
<rect x="655.2" y="438.6" width="5.5" height="7.3" fill="#d8d8d8"/>
<text x="662.6" y="444.4" font-size="9.3" fill="#303030">cellular response to abiotic stimulus</text>
<rect x="655.2" y="450.4" width="5.5" height="7.3" fill="#9e62b4"/>
<text x="662.6" y="456.2" font-size="9.3" fill="#303030">cell population proliferation</text>
<rect x="655.2" y="462.1" width="5.5" height="7.3" fill="#c2e0ba"/>
<text x="662.6" y="467.9" font-size="9.3" fill="#303030">AGE RAGE pathway</text>
<g stroke="#9a84d2" stroke-width="0.6" stroke-opacity="0.7"><line x1="586.9" y1="251.7" x2="575.4" y2="271.2"/><line x1="586.9" y1="251.7" x2="595.5" y2="272.2"/><line x1="586.9" y1="251.7" x2="584.3" y2="280.2"/><line x1="557.5" y1="270.6" x2="567.2" y2="299.8"/><line x1="575.4" y1="271.2" x2="567.2" y2="299.8"/><line x1="595.5" y1="272.2" x2="567.2" y2="299.8"/><line x1="584.3" y1="280.2" x2="567.2" y2="299.8"/><line x1="567.2" y1="299.8" x2="594.3" y2="298.4"/><line x1="567.2" y1="299.8" x2="605.4" y2="325.5"/><line x1="567.2" y1="299.8" x2="534.5" y2="304.7"/><line x1="567.2" y1="299.8" x2="541.3" y2="319.8"/><line x1="567.2" y1="299.8" x2="535.2" y2="328.9"/><line x1="594.3" y1="298.4" x2="621.5" y2="312.4"/><line x1="603.0" y1="292.9" x2="621.5" y2="312.4"/><line x1="642.0" y1="335.3" x2="615.2" y2="343.1"/><line x1="615.2" y1="343.1" x2="601.7" y2="365.3"/><line x1="615.2" y1="343.1" x2="577.6" y2="351.4"/><line x1="622.9" y1="354.2" x2="577.6" y2="351.4"/><line x1="622.9" y1="354.2" x2="563.4" y2="354.9"/><line x1="601.7" y1="365.3" x2="634.7" y2="367.3"/><line x1="601.7" y1="365.3" x2="556.5" y2="357.0"/><line x1="601.7" y1="365.3" x2="549.7" y2="355.4"/><line x1="610.6" y1="372.3" x2="646.4" y2="374.0"/><line x1="610.6" y1="372.3" x2="636.3" y2="384.0"/><line x1="610.6" y1="372.3" x2="573.7" y2="364.9"/><line x1="626.3" y1="371.3" x2="585.0" y2="360.2"/><line x1="634.7" y1="367.3" x2="650.4" y2="392.4"/><line x1="646.4" y1="374.0" x2="624.7" y2="387.4"/><line x1="624.7" y1="387.4" x2="650.4" y2="392.4"/><line x1="624.7" y1="387.4" x2="590.0" y2="373.3"/><line x1="585.0" y1="360.2" x2="552.4" y2="374.7"/><line x1="590.0" y1="373.3" x2="563.4" y2="354.9"/><line x1="577.6" y1="351.4" x2="549.7" y2="355.4"/><line x1="573.7" y1="364.9" x2="552.4" y2="374.7"/><line x1="563.8" y1="377.9" x2="543.5" y2="370.5"/><line x1="576.9" y1="381.7" x2="545.1" y2="394.5"/><line x1="569.9" y1="386.0" x2="533.2" y2="371.5"/><line x1="568.0" y1="392.0" x2="545.1" y2="394.5"/><line x1="556.5" y1="357.0" x2="529.0" y2="362.0"/><line x1="549.7" y1="355.4" x2="541.3" y2="319.8"/><line x1="549.7" y1="355.4" x2="524.7" y2="356.0"/><line x1="563.4" y1="354.9" x2="535.2" y2="328.9"/><line x1="557.9" y1="378.9" x2="526.5" y2="375.4"/><line x1="551.0" y1="399.8" x2="527.4" y2="402.8"/><line x1="551.0" y1="399.8" x2="534.0" y2="422.1"/><line x1="601.9" y1="406.6" x2="601.2" y2="429.4"/><line x1="541.3" y1="319.8" x2="517.3" y2="328.8"/><line x1="510.2" y1="325.7" x2="535.2" y2="328.9"/><line x1="494.5" y1="351.2" x2="478.9" y2="365.8"/><line x1="518.0" y1="363.0" x2="543.5" y2="370.5"/><line x1="545.1" y1="394.5" x2="514.9" y2="402.0"/><line x1="545.1" y1="394.5" x2="543.9" y2="419.5"/><line x1="478.9" y1="365.8" x2="504.2" y2="383.3"/><line x1="492.2" y1="376.2" x2="474.0" y2="383.9"/><line x1="482.1" y1="381.2" x2="504.2" y2="383.3"/><line x1="478.1" y1="389.3" x2="495.2" y2="399.4"/><line x1="481.1" y1="404.4" x2="501.2" y2="404.8"/><line x1="543.9" y1="419.5" x2="556.5" y2="432.2"/><line x1="534.0" y1="422.1" x2="556.5" y2="432.2"/><line x1="490.2" y1="418.5" x2="477.1" y2="440.0"/><line x1="513.3" y1="425.5" x2="526.4" y2="433.6"/><line x1="504.2" y1="433.0" x2="484.1" y2="443.4"/></g><g stroke="#6e4cb8" stroke-width="0.8" stroke-opacity="0.7"><line x1="575.4" y1="271.2" x2="595.5" y2="272.2"/><line x1="575.4" y1="271.2" x2="584.3" y2="280.2"/><line x1="595.5" y1="272.2" x2="584.3" y2="280.2"/><line x1="595.5" y1="272.2" x2="603.0" y2="292.9"/><line x1="584.3" y1="280.2" x2="594.3" y2="298.4"/><line x1="584.3" y1="280.2" x2="603.0" y2="292.9"/><line x1="594.3" y1="298.4" x2="603.0" y2="292.9"/><line x1="594.3" y1="298.4" x2="615.9" y2="288.9"/><line x1="594.3" y1="298.4" x2="609.0" y2="308.4"/><line x1="603.0" y1="292.9" x2="615.9" y2="288.9"/><line x1="603.0" y1="292.9" x2="624.5" y2="298.4"/><line x1="603.0" y1="292.9" x2="609.0" y2="308.4"/><line x1="615.9" y1="288.9" x2="624.5" y2="298.4"/><line x1="615.9" y1="288.9" x2="609.0" y2="308.4"/><line x1="624.5" y1="298.4" x2="609.0" y2="308.4"/><line x1="624.5" y1="298.4" x2="621.5" y2="312.4"/><line x1="609.0" y1="308.4" x2="621.5" y2="312.4"/><line x1="609.0" y1="308.4" x2="605.4" y2="325.5"/><line x1="621.5" y1="312.4" x2="605.4" y2="325.5"/><line x1="605.4" y1="325.5" x2="615.2" y2="343.1"/><line x1="615.2" y1="343.1" x2="622.9" y2="354.2"/><line x1="622.9" y1="354.2" x2="601.7" y2="365.3"/><line x1="622.9" y1="354.2" x2="610.6" y2="372.3"/><line x1="622.9" y1="354.2" x2="626.3" y2="371.3"/><line x1="622.9" y1="354.2" x2="634.7" y2="367.3"/><line x1="601.7" y1="365.3" x2="610.6" y2="372.3"/><line x1="601.7" y1="365.3" x2="585.0" y2="360.2"/><line x1="601.7" y1="365.3" x2="590.0" y2="373.3"/><line x1="610.6" y1="372.3" x2="626.3" y2="371.3"/><line x1="610.6" y1="372.3" x2="624.7" y2="387.4"/><line x1="610.6" y1="372.3" x2="590.0" y2="373.3"/><line x1="626.3" y1="371.3" x2="634.7" y2="367.3"/><line x1="626.3" y1="371.3" x2="646.4" y2="374.0"/><line x1="626.3" y1="371.3" x2="624.7" y2="387.4"/><line x1="626.3" y1="371.3" x2="636.3" y2="384.0"/><line x1="634.7" y1="367.3" x2="646.4" y2="374.0"/><line x1="634.7" y1="367.3" x2="624.7" y2="387.4"/><line x1="634.7" y1="367.3" x2="636.3" y2="384.0"/><line x1="646.4" y1="374.0" x2="636.3" y2="384.0"/><line x1="646.4" y1="374.0" x2="650.4" y2="392.4"/><line x1="624.7" y1="387.4" x2="636.3" y2="384.0"/><line x1="636.3" y1="384.0" x2="650.4" y2="392.4"/><line x1="585.0" y1="360.2" x2="590.0" y2="373.3"/><line x1="585.0" y1="360.2" x2="577.6" y2="351.4"/><line x1="585.0" y1="360.2" x2="573.7" y2="364.9"/><line x1="585.0" y1="360.2" x2="563.4" y2="354.9"/><line x1="590.0" y1="373.3" x2="573.7" y2="364.9"/><line x1="590.0" y1="373.3" x2="576.9" y2="381.7"/><line x1="577.6" y1="351.4" x2="573.7" y2="364.9"/><line x1="577.6" y1="351.4" x2="556.5" y2="357.0"/><line x1="577.6" y1="351.4" x2="563.4" y2="354.9"/><line x1="573.7" y1="364.9" x2="563.8" y2="377.9"/><line x1="573.7" y1="364.9" x2="576.9" y2="381.7"/><line x1="573.7" y1="364.9" x2="556.5" y2="357.0"/><line x1="573.7" y1="364.9" x2="563.4" y2="354.9"/><line x1="563.8" y1="377.9" x2="576.9" y2="381.7"/><line x1="563.8" y1="377.9" x2="569.9" y2="386.0"/><line x1="563.8" y1="377.9" x2="568.0" y2="392.0"/><line x1="563.8" y1="377.9" x2="557.9" y2="378.9"/><line x1="563.8" y1="377.9" x2="552.4" y2="374.7"/><line x1="576.9" y1="381.7" x2="569.9" y2="386.0"/><line x1="576.9" y1="381.7" x2="568.0" y2="392.0"/><line x1="569.9" y1="386.0" x2="568.0" y2="392.0"/><line x1="569.9" y1="386.0" x2="557.9" y2="378.9"/><line x1="569.9" y1="386.0" x2="552.4" y2="374.7"/><line x1="568.0" y1="392.0" x2="557.9" y2="378.9"/><line x1="568.0" y1="392.0" x2="551.0" y2="399.8"/><line x1="556.5" y1="357.0" x2="549.7" y2="355.4"/><line x1="556.5" y1="357.0" x2="563.4" y2="354.9"/><line x1="556.5" y1="357.0" x2="543.5" y2="370.5"/><line x1="556.5" y1="357.0" x2="552.4" y2="374.7"/><line x1="549.7" y1="355.4" x2="563.4" y2="354.9"/><line x1="549.7" y1="355.4" x2="534.5" y2="349.7"/><line x1="549.7" y1="355.4" x2="543.5" y2="370.5"/><line x1="549.7" y1="355.4" x2="552.4" y2="374.7"/><line x1="557.9" y1="378.9" x2="552.4" y2="374.7"/><line x1="557.9" y1="378.9" x2="545.5" y2="378.6"/><line x1="551.0" y1="399.8" x2="545.1" y2="394.5"/><line x1="551.0" y1="399.8" x2="535.0" y2="404.4"/><line x1="551.0" y1="399.8" x2="531.4" y2="395.8"/><line x1="551.0" y1="399.8" x2="535.4" y2="409.4"/><line x1="522.8" y1="295.7" x2="517.2" y2="304.5"/><line x1="522.8" y1="295.7" x2="534.5" y2="304.7"/><line x1="522.8" y1="295.7" x2="526.6" y2="312.2"/><line x1="517.2" y1="304.5" x2="534.5" y2="304.7"/><line x1="517.2" y1="304.5" x2="526.6" y2="312.2"/><line x1="517.2" y1="304.5" x2="524.0" y2="323.2"/><line x1="517.2" y1="304.5" x2="510.2" y2="325.7"/><line x1="534.5" y1="304.7" x2="526.6" y2="312.2"/><line x1="534.5" y1="304.7" x2="541.3" y2="319.8"/><line x1="534.5" y1="304.7" x2="524.0" y2="323.2"/><line x1="526.6" y1="312.2" x2="541.3" y2="319.8"/><line x1="526.6" y1="312.2" x2="524.0" y2="323.2"/><line x1="526.6" y1="312.2" x2="535.2" y2="328.9"/><line x1="541.3" y1="319.8" x2="524.0" y2="323.2"/><line x1="541.3" y1="319.8" x2="535.2" y2="328.9"/><line x1="524.0" y1="323.2" x2="510.2" y2="325.7"/><line x1="524.0" y1="323.2" x2="517.3" y2="328.8"/><line x1="524.0" y1="323.2" x2="535.2" y2="328.9"/><line x1="524.0" y1="323.2" x2="513.7" y2="336.3"/><line x1="510.2" y1="325.7" x2="517.3" y2="328.8"/><line x1="510.2" y1="325.7" x2="513.7" y2="336.3"/><line x1="510.2" y1="325.7" x2="504.1" y2="338.0"/><line x1="510.2" y1="325.7" x2="510.2" y2="344.8"/><line x1="517.3" y1="328.8" x2="535.2" y2="328.9"/><line x1="517.3" y1="328.8" x2="513.7" y2="336.3"/><line x1="517.3" y1="328.8" x2="504.1" y2="338.0"/><line x1="517.3" y1="328.8" x2="522.2" y2="344.2"/><line x1="535.2" y1="328.9" x2="528.2" y2="341.3"/><line x1="513.7" y1="336.3" x2="504.1" y2="338.0"/><line x1="513.7" y1="336.3" x2="510.2" y2="344.8"/><line x1="513.7" y1="336.3" x2="522.2" y2="344.2"/><line x1="513.7" y1="336.3" x2="528.2" y2="341.3"/><line x1="504.1" y1="338.0" x2="510.2" y2="344.8"/><line x1="504.1" y1="338.0" x2="506.1" y2="350.2"/><line x1="504.1" y1="338.0" x2="494.5" y2="351.2"/><line x1="510.2" y1="344.8" x2="506.1" y2="350.2"/><line x1="510.2" y1="344.8" x2="494.5" y2="351.2"/><line x1="510.2" y1="344.8" x2="522.2" y2="344.2"/><line x1="510.2" y1="344.8" x2="518.2" y2="358.2"/><line x1="506.1" y1="350.2" x2="494.5" y2="351.2"/><line x1="506.1" y1="350.2" x2="498.5" y2="358.3"/><line x1="506.1" y1="350.2" x2="518.2" y2="358.2"/><line x1="494.5" y1="351.2" x2="498.5" y2="358.3"/><line x1="494.5" y1="351.2" x2="500.1" y2="365.6"/><line x1="498.5" y1="358.3" x2="511.4" y2="365.2"/><line x1="498.5" y1="358.3" x2="500.1" y2="365.6"/><line x1="498.5" y1="358.3" x2="478.9" y2="365.8"/><line x1="498.5" y1="358.3" x2="506.4" y2="374.1"/><line x1="524.7" y1="356.0" x2="534.5" y2="349.7"/><line x1="524.7" y1="356.0" x2="518.0" y2="363.0"/><line x1="524.7" y1="356.0" x2="522.2" y2="344.2"/><line x1="524.7" y1="356.0" x2="528.2" y2="341.3"/><line x1="524.7" y1="356.0" x2="518.2" y2="358.2"/><line x1="524.7" y1="356.0" x2="522.2" y2="366.5"/><line x1="524.7" y1="356.0" x2="529.0" y2="362.0"/><line x1="534.5" y1="349.7" x2="522.2" y2="344.2"/><line x1="534.5" y1="349.7" x2="528.2" y2="341.3"/><line x1="534.5" y1="349.7" x2="529.0" y2="362.0"/><line x1="518.0" y1="363.0" x2="518.2" y2="358.2"/><line x1="518.0" y1="363.0" x2="522.2" y2="366.5"/><line x1="518.0" y1="363.0" x2="511.4" y2="365.2"/><line x1="518.0" y1="363.0" x2="529.0" y2="362.0"/><line x1="522.2" y1="344.2" x2="528.2" y2="341.3"/><line x1="518.2" y1="358.2" x2="522.2" y2="366.5"/><line x1="518.2" y1="358.2" x2="511.4" y2="365.2"/><line x1="518.2" y1="358.2" x2="529.0" y2="362.0"/><line x1="522.2" y1="366.5" x2="511.4" y2="365.2"/><line x1="522.2" y1="366.5" x2="529.0" y2="362.0"/><line x1="522.2" y1="366.5" x2="526.5" y2="375.4"/><line x1="522.2" y1="366.5" x2="531.0" y2="373.0"/><line x1="511.4" y1="365.2" x2="500.1" y2="365.6"/><line x1="511.4" y1="365.2" x2="506.4" y2="374.1"/><line x1="500.1" y1="365.6" x2="492.2" y2="376.2"/><line x1="500.1" y1="365.6" x2="506.4" y2="374.1"/><line x1="529.0" y1="362.0" x2="533.2" y2="371.5"/><line x1="529.0" y1="362.0" x2="531.0" y2="373.0"/><line x1="543.5" y1="370.5" x2="533.2" y2="371.5"/><line x1="543.5" y1="370.5" x2="552.4" y2="374.7"/><line x1="543.5" y1="370.5" x2="531.0" y2="373.0"/><line x1="543.5" y1="370.5" x2="545.5" y2="378.6"/><line x1="543.5" y1="370.5" x2="539.9" y2="374.8"/><line x1="533.2" y1="371.5" x2="526.5" y2="375.4"/><line x1="533.2" y1="371.5" x2="531.0" y2="373.0"/><line x1="533.2" y1="371.5" x2="545.5" y2="378.6"/><line x1="533.2" y1="371.5" x2="539.9" y2="374.8"/><line x1="552.4" y1="374.7" x2="545.5" y2="378.6"/><line x1="552.4" y1="374.7" x2="539.9" y2="374.8"/><line x1="526.5" y1="375.4" x2="531.0" y2="373.0"/><line x1="526.5" y1="375.4" x2="513.7" y2="378.3"/><line x1="526.5" y1="375.4" x2="517.7" y2="381.2"/><line x1="526.5" y1="375.4" x2="526.4" y2="388.3"/><line x1="531.0" y1="373.0" x2="539.9" y2="374.8"/><line x1="513.7" y1="378.3" x2="504.2" y2="383.3"/><line x1="513.7" y1="378.3" x2="517.7" y2="381.2"/><line x1="513.7" y1="378.3" x2="510.9" y2="389.3"/><line x1="513.7" y1="378.3" x2="506.4" y2="374.1"/><line x1="545.1" y1="394.5" x2="535.0" y2="404.4"/><line x1="545.1" y1="394.5" x2="532.5" y2="391.6"/><line x1="545.1" y1="394.5" x2="531.4" y2="395.8"/><line x1="545.1" y1="394.5" x2="545.5" y2="378.6"/><line x1="535.0" y1="404.4" x2="532.5" y2="391.6"/><line x1="535.0" y1="404.4" x2="531.4" y2="395.8"/><line x1="535.0" y1="404.4" x2="527.4" y2="402.8"/><line x1="535.0" y1="404.4" x2="535.4" y2="409.4"/><line x1="535.0" y1="404.4" x2="543.9" y2="419.5"/><line x1="514.9" y1="402.0" x2="516.9" y2="392.7"/><line x1="514.9" y1="402.0" x2="519.3" y2="411.4"/><line x1="514.9" y1="402.0" x2="501.2" y2="404.8"/><line x1="514.9" y1="402.0" x2="519.3" y2="404.0"/><line x1="514.9" y1="402.0" x2="511.3" y2="409.4"/><line x1="514.9" y1="402.0" x2="517.2" y2="408.1"/><line x1="478.9" y1="365.8" x2="492.2" y2="376.2"/><line x1="478.9" y1="365.8" x2="488.1" y2="380.2"/><line x1="478.9" y1="365.8" x2="482.1" y2="381.2"/><line x1="478.9" y1="365.8" x2="474.0" y2="383.9"/><line x1="492.2" y1="376.2" x2="488.1" y2="380.2"/><line x1="492.2" y1="376.2" x2="482.1" y2="381.2"/><line x1="492.2" y1="376.2" x2="492.2" y2="389.3"/><line x1="492.2" y1="376.2" x2="504.2" y2="383.3"/><line x1="488.1" y1="380.2" x2="482.1" y2="381.2"/><line x1="488.1" y1="380.2" x2="474.0" y2="383.9"/><line x1="488.1" y1="380.2" x2="478.1" y2="389.3"/><line x1="488.1" y1="380.2" x2="492.2" y2="389.3"/><line x1="482.1" y1="381.2" x2="474.0" y2="383.9"/><line x1="482.1" y1="381.2" x2="478.1" y2="389.3"/><line x1="482.1" y1="381.2" x2="492.2" y2="389.3"/><line x1="474.0" y1="383.9" x2="478.1" y2="389.3"/><line x1="474.0" y1="383.9" x2="492.2" y2="389.3"/><line x1="478.1" y1="389.3" x2="492.2" y2="389.3"/><line x1="478.1" y1="389.3" x2="481.1" y2="404.4"/><line x1="492.2" y1="389.3" x2="504.2" y2="383.3"/><line x1="492.2" y1="389.3" x2="495.2" y2="399.4"/><line x1="504.2" y1="383.3" x2="517.7" y2="381.2"/><line x1="504.2" y1="383.3" x2="510.9" y2="389.3"/><line x1="504.2" y1="383.3" x2="495.2" y2="399.4"/><line x1="504.2" y1="383.3" x2="506.4" y2="374.1"/><line x1="517.7" y1="381.2" x2="510.9" y2="389.3"/><line x1="517.7" y1="381.2" x2="516.9" y2="392.7"/><line x1="517.7" y1="381.2" x2="526.4" y2="388.3"/><line x1="517.7" y1="381.2" x2="506.4" y2="374.1"/><line x1="510.9" y1="389.3" x2="516.9" y2="392.7"/><line x1="510.9" y1="389.3" x2="522.3" y2="392.7"/><line x1="516.9" y1="392.7" x2="522.3" y2="392.7"/><line x1="516.9" y1="392.7" x2="526.4" y2="388.3"/><line x1="522.3" y1="392.7" x2="532.5" y2="391.6"/><line x1="522.3" y1="392.7" x2="531.4" y2="395.8"/><line x1="522.3" y1="392.7" x2="527.4" y2="402.8"/><line x1="522.3" y1="392.7" x2="526.4" y2="388.3"/><line x1="532.5" y1="391.6" x2="531.4" y2="395.8"/><line x1="532.5" y1="391.6" x2="527.4" y2="402.8"/><line x1="532.5" y1="391.6" x2="526.4" y2="388.3"/><line x1="531.4" y1="395.8" x2="527.4" y2="402.8"/><line x1="531.4" y1="395.8" x2="526.4" y2="388.3"/><line x1="527.4" y1="402.8" x2="535.4" y2="409.4"/><line x1="527.4" y1="402.8" x2="519.3" y2="404.0"/><line x1="535.4" y1="409.4" x2="524.4" y2="416.0"/><line x1="535.4" y1="409.4" x2="543.9" y2="419.5"/><line x1="535.4" y1="409.4" x2="534.0" y2="422.1"/><line x1="519.3" y1="411.4" x2="520.3" y2="416.0"/><line x1="519.3" y1="411.4" x2="519.3" y2="404.0"/><line x1="519.3" y1="411.4" x2="511.3" y2="409.4"/><line x1="519.3" y1="411.4" x2="511.3" y2="414.0"/><line x1="519.3" y1="411.4" x2="524.4" y2="416.0"/><line x1="519.3" y1="411.4" x2="517.2" y2="408.1"/><line x1="520.3" y1="416.0" x2="511.3" y2="414.0"/><line x1="520.3" y1="416.0" x2="524.4" y2="416.0"/><line x1="520.3" y1="416.0" x2="523.4" y2="421.5"/><line x1="520.3" y1="416.0" x2="529.0" y2="423.5"/><line x1="520.3" y1="416.0" x2="517.2" y2="408.1"/><line x1="545.5" y1="378.6" x2="539.9" y2="374.8"/><line x1="495.2" y1="399.4" x2="481.1" y2="404.4"/><line x1="495.2" y1="399.4" x2="501.2" y2="404.8"/><line x1="495.2" y1="399.4" x2="481.1" y2="411.4"/><line x1="481.1" y1="404.4" x2="481.1" y2="411.4"/><line x1="481.1" y1="404.4" x2="490.2" y2="418.5"/><line x1="481.1" y1="404.4" x2="483.1" y2="420.5"/><line x1="501.2" y1="404.8" x2="511.3" y2="409.4"/><line x1="501.2" y1="404.8" x2="511.3" y2="414.0"/><line x1="501.2" y1="404.8" x2="517.2" y2="408.1"/><line x1="519.3" y1="404.0" x2="511.3" y2="409.4"/><line x1="519.3" y1="404.0" x2="517.2" y2="408.1"/><line x1="511.3" y1="409.4" x2="511.3" y2="414.0"/><line x1="511.3" y1="409.4" x2="517.2" y2="408.1"/><line x1="481.1" y1="411.4" x2="490.2" y2="418.5"/><line x1="481.1" y1="411.4" x2="483.1" y2="420.5"/><line x1="481.1" y1="411.4" x2="483.7" y2="425.1"/><line x1="511.3" y1="414.0" x2="513.3" y2="425.5"/><line x1="511.3" y1="414.0" x2="517.2" y2="408.1"/><line x1="524.4" y1="416.0" x2="543.9" y2="419.5"/><line x1="524.4" y1="416.0" x2="523.4" y2="421.5"/><line x1="524.4" y1="416.0" x2="534.0" y2="422.1"/><line x1="524.4" y1="416.0" x2="529.0" y2="423.5"/><line x1="524.4" y1="416.0" x2="517.2" y2="408.1"/><line x1="543.9" y1="419.5" x2="534.0" y2="422.1"/><line x1="543.9" y1="419.5" x2="529.0" y2="423.5"/><line x1="523.4" y1="421.5" x2="534.0" y2="422.1"/><line x1="523.4" y1="421.5" x2="529.0" y2="423.5"/><line x1="523.4" y1="421.5" x2="513.3" y2="425.5"/><line x1="523.4" y1="421.5" x2="526.4" y2="433.6"/><line x1="523.4" y1="421.5" x2="517.2" y2="430.2"/><line x1="534.0" y1="422.1" x2="529.0" y2="423.5"/><line x1="534.0" y1="422.1" x2="526.4" y2="433.6"/><line x1="529.0" y1="423.5" x2="526.4" y2="433.6"/><line x1="490.2" y1="418.5" x2="483.1" y2="420.5"/><line x1="490.2" y1="418.5" x2="483.7" y2="425.1"/><line x1="490.2" y1="418.5" x2="500.2" y2="427.5"/><line x1="490.2" y1="418.5" x2="492.2" y2="430.5"/><line x1="483.1" y1="420.5" x2="483.7" y2="425.1"/><line x1="483.1" y1="420.5" x2="492.2" y2="430.5"/><line x1="483.1" y1="420.5" x2="477.1" y2="440.0"/><line x1="483.7" y1="425.1" x2="492.2" y2="430.5"/><line x1="483.7" y1="425.1" x2="477.1" y2="440.0"/><line x1="483.7" y1="425.1" x2="484.1" y2="443.4"/><line x1="504.2" y1="424.1" x2="513.3" y2="425.5"/><line x1="504.2" y1="424.1" x2="500.2" y2="427.5"/><line x1="504.2" y1="424.1" x2="504.2" y2="433.0"/><line x1="504.2" y1="424.1" x2="513.3" y2="432.2"/><line x1="504.2" y1="424.1" x2="509.1" y2="429.2"/><line x1="513.3" y1="425.5" x2="500.2" y2="427.5"/><line x1="513.3" y1="425.5" x2="504.2" y2="433.0"/><line x1="513.3" y1="425.5" x2="513.3" y2="432.2"/><line x1="513.3" y1="425.5" x2="509.1" y2="429.2"/><line x1="513.3" y1="425.5" x2="517.2" y2="430.2"/><line x1="500.2" y1="427.5" x2="492.2" y2="430.5"/><line x1="500.2" y1="427.5" x2="504.2" y2="433.0"/><line x1="500.2" y1="427.5" x2="484.1" y2="443.4"/><line x1="500.2" y1="427.5" x2="509.1" y2="429.2"/><line x1="492.2" y1="430.5" x2="504.2" y2="433.0"/><line x1="492.2" y1="430.5" x2="477.1" y2="440.0"/><line x1="492.2" y1="430.5" x2="484.1" y2="443.4"/><line x1="492.2" y1="430.5" x2="501.1" y2="450.4"/><line x1="504.2" y1="433.0" x2="513.3" y2="432.2"/><line x1="504.2" y1="433.0" x2="501.1" y2="450.4"/><line x1="504.2" y1="433.0" x2="515.8" y2="443.0"/><line x1="504.2" y1="433.0" x2="509.1" y2="429.2"/><line x1="513.3" y1="432.2" x2="526.4" y2="433.6"/><line x1="513.3" y1="432.2" x2="501.1" y2="450.4"/><line x1="513.3" y1="432.2" x2="515.8" y2="443.0"/><line x1="513.3" y1="432.2" x2="509.1" y2="429.2"/><line x1="513.3" y1="432.2" x2="517.2" y2="430.2"/><line x1="526.4" y1="433.6" x2="515.8" y2="443.0"/><line x1="526.4" y1="433.6" x2="517.2" y2="430.2"/><line x1="477.1" y1="440.0" x2="484.1" y2="443.4"/><line x1="484.1" y1="443.4" x2="501.1" y2="450.4"/><line x1="501.1" y1="450.4" x2="515.8" y2="443.0"/><line x1="515.8" y1="443.0" x2="509.1" y2="429.2"/><line x1="515.8" y1="443.0" x2="517.2" y2="430.2"/><line x1="509.1" y1="429.2" x2="517.2" y2="430.2"/></g><g stroke="#4e2ea6" stroke-opacity="0.72"><line x1="508.1" y1="419.1" x2="513.7" y2="378.3" stroke-width="1.5"/><line x1="508.1" y1="419.1" x2="535.0" y2="404.4" stroke-width="1.5"/><line x1="508.1" y1="419.1" x2="514.9" y2="402.0" stroke-width="1.5"/><line x1="508.1" y1="419.1" x2="488.1" y2="380.2" stroke-width="1.5"/><line x1="508.1" y1="419.1" x2="478.1" y2="389.3" stroke-width="1.5"/><line x1="508.1" y1="419.1" x2="492.2" y2="389.3" stroke-width="1.5"/><line x1="508.1" y1="419.1" x2="504.2" y2="383.3" stroke-width="1.5"/><line x1="508.1" y1="419.1" x2="517.7" y2="381.2" stroke-width="1.5"/><line x1="508.1" y1="419.1" x2="510.9" y2="389.3" stroke-width="1.5"/><line x1="508.1" y1="419.1" x2="516.9" y2="392.7" stroke-width="1.5"/><line x1="508.1" y1="419.1" x2="522.3" y2="392.7" stroke-width="1.5"/><line x1="508.1" y1="419.1" x2="532.5" y2="391.6" stroke-width="1.5"/><line x1="508.1" y1="419.1" x2="531.4" y2="395.8" stroke-width="1.5"/><line x1="508.1" y1="419.1" x2="527.4" y2="402.8" stroke-width="1.5"/><line x1="508.1" y1="419.1" x2="535.4" y2="409.4" stroke-width="1.5"/><line x1="508.1" y1="419.1" x2="519.3" y2="411.4" stroke-width="1.5"/><line x1="508.1" y1="419.1" x2="520.3" y2="416.0" stroke-width="1.5"/><line x1="508.1" y1="419.1" x2="526.4" y2="388.3" stroke-width="1.5"/><line x1="508.1" y1="419.1" x2="495.2" y2="399.4" stroke-width="1.5"/><line x1="508.1" y1="419.1" x2="481.1" y2="404.4" stroke-width="1.5"/><line x1="508.1" y1="419.1" x2="501.2" y2="404.8" stroke-width="1.5"/><line x1="508.1" y1="419.1" x2="519.3" y2="404.0" stroke-width="1.5"/><line x1="508.1" y1="419.1" x2="511.3" y2="409.4" stroke-width="1.5"/><line x1="508.1" y1="419.1" x2="481.1" y2="411.4" stroke-width="1.5"/><line x1="508.1" y1="419.1" x2="511.3" y2="414.0" stroke-width="1.5"/><line x1="508.1" y1="419.1" x2="524.4" y2="416.0" stroke-width="1.5"/><line x1="508.1" y1="419.1" x2="543.9" y2="419.5" stroke-width="1.5"/><line x1="508.1" y1="419.1" x2="523.4" y2="421.5" stroke-width="1.5"/><line x1="508.1" y1="419.1" x2="534.0" y2="422.1" stroke-width="1.5"/><line x1="508.1" y1="419.1" x2="529.0" y2="423.5" stroke-width="1.5"/><line x1="508.1" y1="419.1" x2="490.2" y2="418.5" stroke-width="1.5"/><line x1="508.1" y1="419.1" x2="483.1" y2="420.5" stroke-width="1.5"/><line x1="508.1" y1="419.1" x2="483.7" y2="425.1" stroke-width="1.5"/><line x1="508.1" y1="419.1" x2="504.2" y2="424.1" stroke-width="1.5"/><line x1="508.1" y1="419.1" x2="513.3" y2="425.5" stroke-width="1.5"/><line x1="508.1" y1="419.1" x2="500.2" y2="427.5" stroke-width="1.5"/><line x1="508.1" y1="419.1" x2="492.2" y2="430.5" stroke-width="1.5"/><line x1="508.1" y1="419.1" x2="504.2" y2="433.0" stroke-width="1.5"/><line x1="508.1" y1="419.1" x2="513.3" y2="432.2" stroke-width="1.5"/><line x1="508.1" y1="419.1" x2="526.4" y2="433.6" stroke-width="1.5"/><line x1="508.1" y1="419.1" x2="477.1" y2="440.0" stroke-width="1.5"/><line x1="508.1" y1="419.1" x2="484.1" y2="443.4" stroke-width="1.5"/><line x1="508.1" y1="419.1" x2="501.1" y2="450.4" stroke-width="1.5"/><line x1="508.1" y1="419.1" x2="515.8" y2="443.0" stroke-width="1.5"/><line x1="508.1" y1="419.1" x2="517.2" y2="408.1" stroke-width="1.5"/><line x1="508.1" y1="419.1" x2="509.1" y2="429.2" stroke-width="1.5"/><line x1="508.1" y1="419.1" x2="517.2" y2="430.2" stroke-width="1.5"/><line x1="522.2" y1="398" x2="551.0" y2="399.8" stroke-width="1.1"/><line x1="522.2" y1="398" x2="533.2" y2="371.5" stroke-width="1.1"/><line x1="522.2" y1="398" x2="526.5" y2="375.4" stroke-width="1.1"/><line x1="522.2" y1="398" x2="531.0" y2="373.0" stroke-width="1.1"/><line x1="522.2" y1="398" x2="513.7" y2="378.3" stroke-width="1.1"/><line x1="522.2" y1="398" x2="545.1" y2="394.5" stroke-width="1.1"/><line x1="522.2" y1="398" x2="535.0" y2="404.4" stroke-width="1.1"/><line x1="522.2" y1="398" x2="514.9" y2="402.0" stroke-width="1.1"/><line x1="522.2" y1="398" x2="504.2" y2="383.3" stroke-width="1.1"/><line x1="522.2" y1="398" x2="517.7" y2="381.2" stroke-width="1.1"/><line x1="522.2" y1="398" x2="510.9" y2="389.3" stroke-width="1.1"/><line x1="522.2" y1="398" x2="516.9" y2="392.7" stroke-width="1.1"/><line x1="522.2" y1="398" x2="522.3" y2="392.7" stroke-width="1.1"/><line x1="522.2" y1="398" x2="532.5" y2="391.6" stroke-width="1.1"/><line x1="522.2" y1="398" x2="531.4" y2="395.8" stroke-width="1.1"/><line x1="522.2" y1="398" x2="527.4" y2="402.8" stroke-width="1.1"/><line x1="522.2" y1="398" x2="535.4" y2="409.4" stroke-width="1.1"/><line x1="522.2" y1="398" x2="519.3" y2="411.4" stroke-width="1.1"/><line x1="522.2" y1="398" x2="520.3" y2="416.0" stroke-width="1.1"/><line x1="522.2" y1="398" x2="526.4" y2="388.3" stroke-width="1.1"/><line x1="522.2" y1="398" x2="539.9" y2="374.8" stroke-width="1.1"/><line x1="522.2" y1="398" x2="495.2" y2="399.4" stroke-width="1.1"/><line x1="522.2" y1="398" x2="501.2" y2="404.8" stroke-width="1.1"/><line x1="522.2" y1="398" x2="519.3" y2="404.0" stroke-width="1.1"/><line x1="522.2" y1="398" x2="511.3" y2="409.4" stroke-width="1.1"/><line x1="522.2" y1="398" x2="511.3" y2="414.0" stroke-width="1.1"/><line x1="522.2" y1="398" x2="524.4" y2="416.0" stroke-width="1.1"/><line x1="522.2" y1="398" x2="523.4" y2="421.5" stroke-width="1.1"/><line x1="522.2" y1="398" x2="534.0" y2="422.1" stroke-width="1.1"/><line x1="522.2" y1="398" x2="529.0" y2="423.5" stroke-width="1.1"/><line x1="522.2" y1="398" x2="513.3" y2="425.5" stroke-width="1.1"/><line x1="522.2" y1="398" x2="517.2" y2="408.1" stroke-width="1.1"/><line x1="522.2" y1="398" x2="506.4" y2="374.1" stroke-width="1.1"/><line x1="519" y1="352" x2="513.7" y2="336.3" stroke-width="0.9"/><line x1="519" y1="352" x2="504.1" y2="338.0" stroke-width="0.9"/><line x1="519" y1="352" x2="510.2" y2="344.8" stroke-width="0.9"/><line x1="519" y1="352" x2="506.1" y2="350.2" stroke-width="0.9"/><line x1="519" y1="352" x2="498.5" y2="358.3" stroke-width="0.9"/><line x1="519" y1="352" x2="524.7" y2="356.0" stroke-width="0.9"/><line x1="519" y1="352" x2="534.5" y2="349.7" stroke-width="0.9"/><line x1="519" y1="352" x2="518.0" y2="363.0" stroke-width="0.9"/><line x1="519" y1="352" x2="522.2" y2="344.2" stroke-width="0.9"/><line x1="519" y1="352" x2="528.2" y2="341.3" stroke-width="0.9"/><line x1="519" y1="352" x2="518.2" y2="358.2" stroke-width="0.9"/><line x1="519" y1="352" x2="522.2" y2="366.5" stroke-width="0.9"/><line x1="519" y1="352" x2="511.4" y2="365.2" stroke-width="0.9"/><line x1="519" y1="352" x2="529.0" y2="362.0" stroke-width="0.9"/></g>
<g stroke="#5a5a6a" stroke-width="0.6" stroke-opacity="0.65"><circle cx="586.9" cy="251.7" r="2.0" fill="#8c949c"/><circle cx="557.5" cy="270.6" r="3.3" fill="#7b3f9c"/><circle cx="575.4" cy="271.2" r="3.25" fill="#d6b46c"/><circle cx="595.5" cy="272.2" r="3.25" fill="#d6b46c"/><circle cx="584.3" cy="280.2" r="3.25" fill="#d6b46c"/><circle cx="567.2" cy="299.8" r="3.25" fill="#d6b46c"/><circle cx="594.3" cy="298.4" r="3.25" fill="#dc80c0"/><circle cx="603.0" cy="292.9" r="3.25" fill="#dc80c0"/><circle cx="615.9" cy="288.9" r="3.25" fill="#dc80c0"/><circle cx="624.5" cy="298.4" r="2.6" fill="#c088bc"/><circle cx="609.0" cy="308.4" r="3.25" fill="#dc80c0"/><circle cx="621.5" cy="312.4" r="3.25" fill="#dc80c0"/><circle cx="605.4" cy="325.5" r="3.25" fill="#dc80c0"/><circle cx="642.0" cy="335.3" r="3.25" fill="#9a66b6"/><circle cx="615.2" cy="343.1" r="3.25" fill="#9a66b6"/><circle cx="622.9" cy="354.2" r="3.25" fill="#b8b8e0"/><circle cx="601.7" cy="365.3" r="3.25" fill="#b8b8e0"/><circle cx="610.6" cy="372.3" r="3.25" fill="#b8b8e0"/><circle cx="626.3" cy="371.3" r="3.25" fill="#b8b8e0"/><circle cx="634.7" cy="367.3" r="2.5" fill="#b8b8e0"/><circle cx="646.4" cy="374.0" r="1.6" fill="#b8b8e0"/><circle cx="624.7" cy="387.4" r="3.25" fill="#b8b8e0"/><circle cx="636.3" cy="384.0" r="1.6" fill="#b8b8e0"/><circle cx="650.4" cy="392.4" r="1.1" fill="#b8b8e0"/><circle cx="585.0" cy="360.2" r="3.25" fill="#84cdc4"/><circle cx="590.0" cy="373.3" r="3.25" fill="#84cdc4"/><circle cx="577.6" cy="351.4" r="2.8" fill="#84cdc4"/><circle cx="573.7" cy="364.9" r="3.25" fill="#84cdc4"/><circle cx="563.8" cy="377.9" r="3.25" fill="#84cdc4"/><circle cx="576.9" cy="381.7" r="3.25" fill="#84cdc4"/><circle cx="569.9" cy="386.0" r="3.25" fill="#d4d8dc"/><circle cx="568.0" cy="392.0" r="3.25" fill="#84cdc4"/><circle cx="556.5" cy="357.0" r="3.25" fill="#84cdc4"/><circle cx="549.7" cy="355.4" r="3.25" fill="#d4d8dc"/><circle cx="563.4" cy="354.9" r="3.25" fill="#d4d8dc"/><circle cx="557.9" cy="378.9" r="3.25" fill="#d4d8dc"/><circle cx="551.0" cy="399.8" r="3.25" fill="#84cdc4"/><circle cx="601.9" cy="406.6" r="3.25" fill="#3d9a46"/><circle cx="601.2" cy="429.4" r="3.25" fill="#3d9a46"/><circle cx="522.8" cy="295.7" r="3.25" fill="#9ccc66"/><circle cx="517.2" cy="304.5" r="3.25" fill="#9ccc66"/><circle cx="534.5" cy="304.7" r="3.25" fill="#9ccc66"/><circle cx="526.6" cy="312.2" r="3.25" fill="#9ccc66"/><circle cx="541.3" cy="319.8" r="3.25" fill="#9ccc66"/><circle cx="524.0" cy="323.2" r="3.25" fill="#9ccc66"/><circle cx="510.2" cy="325.7" r="3.25" fill="#9ccc66"/><circle cx="517.3" cy="328.8" r="3.25" fill="#9ccc66"/><circle cx="535.2" cy="328.9" r="3.25" fill="#9ccc66"/><circle cx="513.7" cy="336.3" r="3.25" fill="#9ccc66"/><circle cx="504.1" cy="338.0" r="3.25" fill="#2f6fb4"/><circle cx="510.2" cy="344.8" r="3.25" fill="#2f6fb4"/><circle cx="506.1" cy="350.2" r="3.25" fill="#2f6fb4"/><circle cx="494.5" cy="351.2" r="3.25" fill="#6ea2d2"/><circle cx="498.5" cy="358.3" r="3.25" fill="#2f6fb4"/><circle cx="524.7" cy="356.0" r="3.25" fill="#2f6fb4"/><circle cx="534.5" cy="349.7" r="3.25" fill="#6ea2d2"/><circle cx="518.0" cy="363.0" r="3.25" fill="#2f6fb4"/><circle cx="522.2" cy="344.2" r="3.25" fill="#c6e6c4"/><circle cx="528.2" cy="341.3" r="3.25" fill="#c6e6c4"/><circle cx="518.2" cy="358.2" r="3.25" fill="#c6e6c4"/><circle cx="522.2" cy="366.5" r="3.25" fill="#c6e6c4"/><circle cx="511.4" cy="365.2" r="3.25" fill="#c6e6c4"/><circle cx="500.1" cy="365.6" r="3.25" fill="#c6e6c4"/><circle cx="529.0" cy="362.0" r="3.25" fill="#cc2229"/><circle cx="543.5" cy="370.5" r="3.25" fill="#cc2229"/><circle cx="533.2" cy="371.5" r="3.25" fill="#cc2229"/><circle cx="552.4" cy="374.7" r="3.25" fill="#cc2229"/><circle cx="526.5" cy="375.4" r="3.25" fill="#cc2229"/><circle cx="531.0" cy="373.0" r="3.25" fill="#cc2229"/><circle cx="513.7" cy="378.3" r="3.25" fill="#cc2229"/><circle cx="545.1" cy="394.5" r="3.25" fill="#cc2229"/><circle cx="535.0" cy="404.4" r="3.25" fill="#cc2229"/><circle cx="514.9" cy="402.0" r="3.25" fill="#cc2229"/><circle cx="478.9" cy="365.8" r="3.25" fill="#8c949c"/><circle cx="492.2" cy="376.2" r="3.25" fill="#8c949c"/><circle cx="488.1" cy="380.2" r="3.25" fill="#e2ec64"/><circle cx="482.1" cy="381.2" r="3.25" fill="#8c949c"/><circle cx="474.0" cy="383.9" r="3.25" fill="#8c949c"/><circle cx="478.1" cy="389.3" r="3.25" fill="#8c949c"/><circle cx="492.2" cy="389.3" r="3.25" fill="#8c949c"/><circle cx="504.2" cy="383.3" r="3.25" fill="#8c949c"/><circle cx="517.7" cy="381.2" r="3.25" fill="#98522c"/><circle cx="510.9" cy="389.3" r="3.25" fill="#98522c"/><circle cx="516.9" cy="392.7" r="3.25" fill="#98522c"/><circle cx="522.3" cy="392.7" r="3.25" fill="#98522c"/><circle cx="532.5" cy="391.6" r="3.25" fill="#98522c"/><circle cx="531.4" cy="395.8" r="3.25" fill="#98522c"/><circle cx="527.4" cy="402.8" r="3.25" fill="#98522c"/><circle cx="535.4" cy="409.4" r="3.25" fill="#98522c"/><circle cx="519.3" cy="411.4" r="3.25" fill="#98522c"/><circle cx="520.3" cy="416.0" r="3.25" fill="#98522c"/><circle cx="526.4" cy="388.3" r="3.25" fill="#c6e6c4"/><circle cx="545.5" cy="378.6" r="3.25" fill="#d4d8dc"/><circle cx="539.9" cy="374.8" r="3.25" fill="#c6e6c4"/><circle cx="495.2" cy="399.4" r="3.25" fill="#f2f2bc"/><circle cx="481.1" cy="404.4" r="3.25" fill="#b8b8e0"/><circle cx="501.2" cy="404.8" r="3.25" fill="#dc7a26"/><circle cx="519.3" cy="404.0" r="3.25" fill="#f2f2bc"/><circle cx="511.3" cy="409.4" r="3.25" fill="#c6e6c4"/><circle cx="481.1" cy="411.4" r="3.25" fill="#f4c8dc"/><circle cx="511.3" cy="414.0" r="3.25" fill="#f2f2bc"/><circle cx="524.4" cy="416.0" r="3.25" fill="#f2f2bc"/><circle cx="543.9" cy="419.5" r="3.25" fill="#dc7a26"/><circle cx="523.4" cy="421.5" r="3.25" fill="#e2ec64"/><circle cx="534.0" cy="422.1" r="3.25" fill="#dc7a26"/><circle cx="529.0" cy="423.5" r="3.25" fill="#f2f2bc"/><circle cx="490.2" cy="418.5" r="3.25" fill="#e8746e"/><circle cx="483.1" cy="420.5" r="3.25" fill="#e6e64a"/><circle cx="483.7" cy="425.1" r="3.25" fill="#e6e64a"/><circle cx="504.2" cy="424.1" r="3.25" fill="#e6e64a"/><circle cx="513.3" cy="425.5" r="3.25" fill="#b8b8e0"/><circle cx="500.2" cy="427.5" r="3.25" fill="#e8746e"/><circle cx="492.2" cy="430.5" r="3.25" fill="#f4c8dc"/><circle cx="504.2" cy="433.0" r="3.25" fill="#e6e64a"/><circle cx="513.3" cy="432.2" r="3.25" fill="#f2f2bc"/><circle cx="526.4" cy="433.6" r="3.25" fill="#e8746e"/><circle cx="556.5" cy="432.2" r="1.1" fill="#8c949c"/><circle cx="477.1" cy="440.0" r="3.25" fill="#e8746e"/><circle cx="484.1" cy="443.4" r="3.25" fill="#b8b8e0"/><circle cx="501.1" cy="450.4" r="3.25" fill="#e8746e"/><circle cx="515.8" cy="443.0" r="3.25" fill="#e8746e"/><circle cx="517.2" cy="408.1" r="3.25" fill="#f4c8dc"/><circle cx="509.1" cy="429.2" r="3.25" fill="#d4d8dc"/><circle cx="517.2" cy="430.2" r="3.25" fill="#e8746e"/><circle cx="506.4" cy="374.1" r="3.25" fill="#c6e6c4"/></g>
<rect x="13" y="495.6" width="12" height="1.4" fill="#8a8a8a"/>
<path d="M663.4 497 Q666.7 494.6 670.1 497 Z" fill="#333"/>
</svg></body></html>
